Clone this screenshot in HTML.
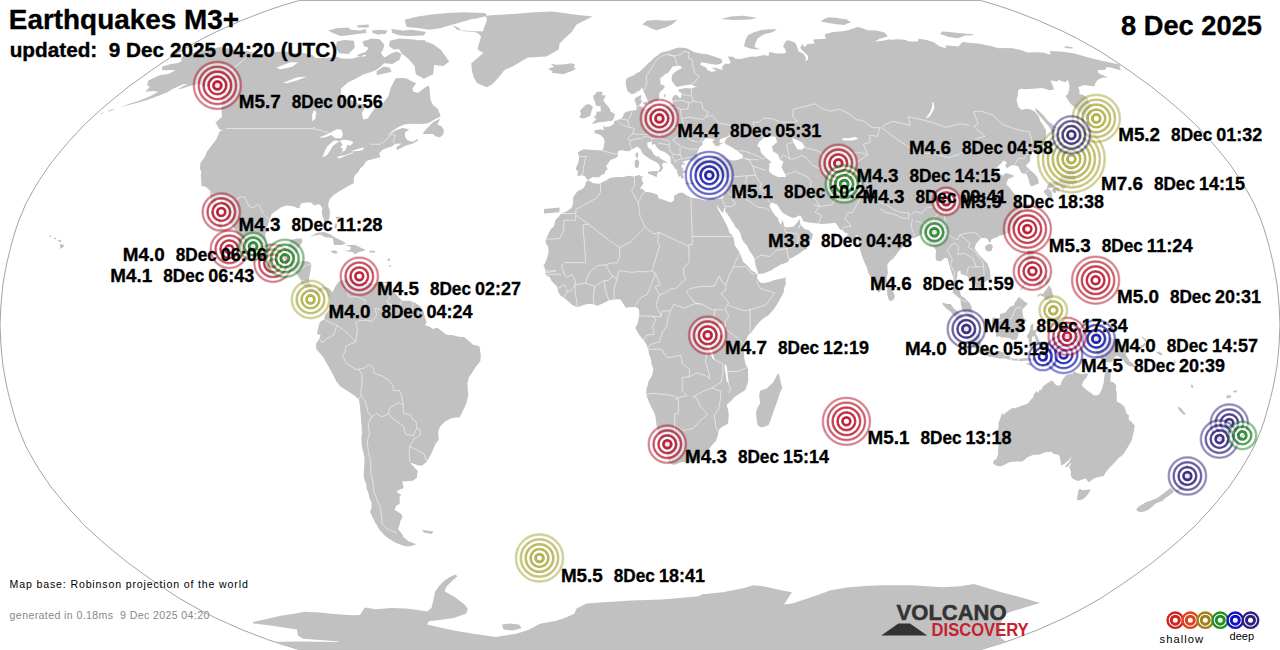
<!DOCTYPE html>
<html><head><meta charset="utf-8"><title>Earthquakes M3+</title>
<style>
html,body{margin:0;padding:0;background:#fff;}
body{width:1280px;height:650px;overflow:hidden;position:relative;font-family:"Liberation Sans",sans-serif;}
#map{position:absolute;left:0;top:0;}
.lbl text{font-family:"Liberation Sans",sans-serif;font-weight:bold;font-size:17.5px;fill:#000;stroke:#000;stroke-width:0.3px;}
.hd{font-family:"Liberation Sans",sans-serif;font-weight:bold;fill:#000;stroke:#000;stroke-width:0.35px;}
.sm{font-family:"Liberation Sans",sans-serif;}
</style></head><body>
<svg id="map" width="1280" height="650" viewBox="0 0 1280 650">
<path d="M980.6,0.4L990.8,3.5L1001.1,6.6L1012.5,10.5L1025.1,15.3L1037.6,20.1L1050.9,26.0L1064.2,32.0L1076.7,38.2L1088.3,44.7L1099.9,51.2L1110.4,58.1L1120.9,65.0L1131.2,72.1L1141.1,79.3L1151.1,86.5L1160.4,94.0L1169.7,101.5L1178.6,109.1L1187.0,116.8L1195.5,124.5L1202.7,132.4L1209.9,140.2L1216.8,148.1L1223.3,156.1L1229.8,164.1L1235.2,172.1L1240.6,180.1L1245.5,188.1L1250.0,196.2L1254.4,204.2L1257.7,212.3L1261.1,220.3L1263.9,228.4L1266.3,236.4L1268.6,244.5L1270.6,252.5L1272.6,260.6L1274.3,268.6L1275.7,276.7L1277.1,284.7L1277.9,292.8L1278.7,300.8L1279.3,308.9L1279.6,316.9L1280.0,325.0L1279.6,333.1L1279.3,341.1L1278.7,349.2L1277.9,357.2L1277.1,365.3L1275.7,373.3L1274.3,381.4L1272.6,389.4L1270.6,397.5L1268.6,405.5L1266.3,413.6L1263.9,421.6L1261.1,429.7L1257.7,437.7L1254.4,445.8L1250.0,453.8L1245.5,461.9L1240.6,469.9L1235.2,477.9L1229.8,485.9L1223.3,493.9L1216.8,501.9L1209.9,509.8L1202.7,517.6L1195.5,525.5L1187.0,533.2L1178.6,540.9L1169.7,548.5L1160.4,556.0L1151.1,563.5L1141.1,570.7L1131.2,577.9L1120.9,585.0L1110.4,591.9L1099.9,598.8L1088.3,605.3L1076.7,611.8L1064.2,618.0L1050.9,624.0L1037.6,629.9L1025.1,634.7L1012.5,639.5L1001.1,643.4L990.8,646.5L980.6,649.6L299.4,649.6L289.2,646.5L278.9,643.4L267.5,639.5L254.9,634.7L242.4,629.9L229.1,624.0L215.8,618.0L203.3,611.8L191.7,605.3L180.1,598.8L169.6,591.9L159.1,585.0L148.8,577.9L138.9,570.7L128.9,563.5L119.6,556.0L110.3,548.5L101.4,540.9L93.0,533.2L84.5,525.5L77.3,517.6L70.1,509.8L63.2,501.9L56.7,493.9L50.2,485.9L44.8,477.9L39.4,469.9L34.5,461.9L30.0,453.8L25.6,445.8L22.3,437.7L18.9,429.7L16.1,421.6L13.7,413.6L11.4,405.5L9.4,397.5L7.4,389.4L5.7,381.4L4.3,373.3L2.9,365.3L2.1,357.2L1.3,349.2L0.7,341.1L0.4,333.1L0.0,325.0L0.4,316.9L0.7,308.9L1.3,300.8L2.1,292.8L2.9,284.7L4.3,276.7L5.7,268.6L7.4,260.6L9.4,252.5L11.4,244.5L13.7,236.4L16.1,228.4L18.9,220.3L22.3,212.3L25.6,204.2L30.0,196.2L34.5,188.1L39.4,180.1L44.8,172.1L50.2,164.1L56.7,156.1L63.2,148.1L70.1,140.2L77.3,132.4L84.5,124.5L93.0,116.8L101.4,109.1L110.3,101.5L119.6,94.0L128.9,86.5L138.9,79.3L148.8,72.1L159.1,65.0L169.6,58.1L180.1,51.2L191.7,44.7L203.3,38.2L215.8,32.0L229.1,26.0L242.4,20.1L254.9,15.3L267.5,10.5L278.9,6.6L289.2,3.5L299.4,0.4Z" fill="#fff" stroke="#8c8c8c" stroke-width="0.8"/>
<path d="M162.3,66.4L171.3,64.0L178.1,62.9L181.5,61.2L181.3,58.1L183.9,55.0L197.0,51.9L208.9,49.2L220.8,47.0L225.7,48.3L230.3,48.6L236.6,50.2L247.0,50.9L252.4,52.6L258.4,54.0L266.6,53.6L273.8,51.9L284.9,51.2L292.7,53.3L303.4,52.9L311.8,54.7L315.9,58.1L326.4,58.1L335.9,56.4L341.7,58.5L351.9,58.8L359.3,56.4L364.5,56.4L371.7,51.2L380.7,45.0L384.3,46.3L380.7,51.2L382.3,55.3L384.5,57.4L392.0,52.9L397.0,51.5L401.5,54.0L399.5,59.8L392.3,64.0L384.4,63.3L377.5,69.2L371.2,72.1L363.3,74.6L354.6,79.3L347.9,82.6L341.1,88.4L340.9,91.0L341.0,97.8L349.9,99.7L358.9,103.8L366.4,104.5L362.0,113.0L362.4,116.1L363.5,119.5L367.8,118.4L375.3,107.2L383.3,102.7L388.5,95.9L390.4,88.4L393.1,82.9L395.7,78.2L401.5,77.9L406.6,78.6L410.8,80.8L416.2,83.3L412.4,88.4L413.0,91.4L418.0,92.9L425.2,87.3L429.1,85.5L429.9,92.2L430.5,99.7L432.5,104.5L438.0,109.1L440.2,114.9L440.5,116.4L435.4,119.1L427.6,123.4L419.5,124.1L410.5,123.8L403.9,124.5L398.2,127.3L391.8,131.6L386.9,135.9L395.4,130.4L402.5,128.1L409.2,129.2L404.9,132.4L405.1,136.7L407.3,140.2L413.0,141.8L417.2,139.1L418.2,140.6L412.3,143.8L405.3,145.8L397.1,150.1L396.1,147.3L402.0,143.4L395.4,143.8L392.3,146.2L386.8,148.1L382.4,149.7L379.0,153.7L380.1,156.1L380.3,157.3L375.0,158.5L367.7,160.5L365.5,162.1L364.0,165.3L360.1,168.5L358.4,171.7L354.5,175.7L353.9,178.5L353.7,183.3L349.7,185.3L344.2,188.6L339.0,191.4L333.7,195.0L329.8,199.0L328.5,202.6L328.3,206.3L329.8,210.7L329.7,217.5L327.4,223.6L324.9,224.0L323.5,219.1L321.7,213.1L322.4,208.3L320.1,204.7L318.1,204.2L314.1,205.5L311.1,202.6L306.0,202.6L301.0,203.4L299.4,207.1L300.5,208.3L297.2,207.9L293.1,206.3L286.4,205.5L281.6,207.1L276.7,210.3L271.7,213.9L269.3,220.8L266.8,227.6L265.2,235.2L266.0,242.1L268.0,247.3L271.9,249.7L274.0,251.7L281.2,250.1L285.4,250.1L287.9,247.3L289.8,242.1L290.4,240.1L297.0,238.5L301.9,238.5L302.3,242.1L299.2,246.5L297.5,251.3L295.2,255.8L294.5,260.6L292.3,261.4L297.2,261.4L302.6,261.0L308.5,261.4L311.6,264.6L310.3,270.7L309.4,276.7L308.7,280.7L310.5,284.7L313.5,288.8L317.0,289.6L323.2,286.4L328.4,288.0L331.1,290.4L328.3,296.0L326.8,291.6L323.0,289.2L320.0,292.0L320.2,295.2L316.7,294.0L314.0,292.0L308.7,291.2L308.2,288.8L303.8,285.2L301.3,284.7L301.3,280.7L299.1,277.5L296.0,273.1L294.4,271.9L289.2,270.7L284.8,269.1L280.1,266.2L276.1,261.8L272.9,259.8L265.5,261.8L260.5,260.2L254.2,257.4L249.1,254.2L242.6,250.9L238.7,246.9L236.6,242.9L238.5,238.5L237.8,234.4L235.9,231.6L233.1,226.4L230.4,223.2L227.9,219.5L225.9,214.3L223.6,210.3L221.8,207.1L220.8,200.6L217.0,197.4L215.5,202.2L217.7,207.1L219.0,214.3L220.3,218.3L220.9,222.4L222.1,227.6L223.6,232.8L222.6,230.4L217.7,225.6L218.3,220.8L214.8,217.1L212.2,214.3L210.4,213.1L214.2,210.7L211.2,202.6L210.5,197.4L210.1,194.2L210.5,191.4L207.9,188.6L205.0,186.5L201.4,186.1L201.1,177.7L200.6,175.3L201.5,172.9L199.9,168.1L200.6,162.5L205.4,156.1L206.6,152.1L216.2,139.5L220.0,130.8L224.4,130.8L220.0,127.3L216.7,121.4L222.1,116.8L221.5,112.2L221.8,107.2L221.7,103.4L221.0,99.7L223.0,93.3L217.6,92.9L214.9,89.9L212.9,87.7L208.4,86.5L202.7,86.5L199.1,83.7L190.8,85.8L182.2,88.4L177.2,89.5L187.8,83.7L182.7,84.4L173.2,88.8L167.4,92.2L157.9,95.9L145.0,100.8L134.5,103.4L126.0,105.7L119.9,107.2L130.1,103.4L139.1,100.8L150.6,95.9L158.3,91.8L153.4,91.0L145.4,91.8L149.7,86.9L146.9,84.7L148.1,82.2L148.0,80.8L155.7,77.1L160.5,75.0L168.3,73.9L175.7,70.3L170.8,69.9L164.9,70.3L161.8,69.9L162.3,66.4ZM451.4,25.1L458.2,27.5L461.7,31.1L475.0,32.0L478.5,33.5L481.0,36.6L479.2,43.1L477.5,49.6L483.3,52.9L471.3,63.3L472.0,71.4L473.8,77.5L476.9,82.9L486.4,87.3L491.7,84.7L498.7,77.5L504.3,70.3L512.5,66.4L527.9,57.4L546.4,56.4L558.8,49.6L559.4,43.7L564.8,38.2L571.7,32.0L576.6,24.5L587.4,18.9L592.6,16.5L576.0,14.8L560.3,12.4L550.4,11.5L535.3,12.2L512.7,14.1L490.3,15.3L479.1,17.7L470.7,19.4L458.1,23.0ZM356.4,55.3L366.3,51.5L367.0,53.6L360.6,56.4ZM376.4,71.4L383.7,66.4L389.6,67.4L391.7,72.1L383.8,73.5L377.0,75.3ZM422.5,134.0L425.0,130.4L432.5,122.6L440.3,118.4L437.3,124.5L441.9,126.5L443.8,130.0L443.4,134.3L439.8,137.5L435.5,136.3L433.1,134.0ZM309.8,236.9L317.0,232.8L324.0,232.0L330.6,234.4L335.4,237.7L340.3,240.1L346.1,243.3L341.4,244.9L334.0,244.9L332.6,238.1L325.0,237.3L320.2,234.4L314.8,235.6ZM345.2,245.3L350.8,244.9L355.3,244.9L361.0,247.7L365.6,250.1L363.4,250.9L359.8,251.7L354.6,254.2L352.8,252.1L344.5,250.9L350.2,250.1L350.9,246.9ZM330.8,250.9L335.8,250.5L338.0,253.0L334.4,253.8L330.8,251.7ZM369.8,250.5L375.3,250.9L374.8,252.5L369.5,252.5ZM224.1,131.2L218.9,128.8L215.2,121.8L219.2,122.2L222.9,125.7L224.5,129.2ZM60.5,243.7L63.7,244.9L64.0,246.5L60.3,248.9L60.0,245.7ZM331.1,290.4L332.4,292.4L334.8,287.6L337.5,283.1L340.2,280.7L345.6,279.5L349.7,277.1L352.3,275.1L353.5,278.3L351.5,281.1L350.6,278.7L351.6,283.9L353.2,286.8L351.5,280.7L356.6,278.3L356.8,276.3L358.4,278.7L362.8,281.1L364.1,282.7L367.7,282.3L372.8,284.3L378.3,282.3L385.7,281.9L383.1,284.3L388.6,287.6L392.0,290.8L395.4,293.6L398.8,297.6L402.3,300.8L409.4,300.8L414.6,302.5L418.8,305.3L421.6,308.1L423.3,310.9L425.0,317.8L426.7,322.2L424.9,325.0L430.3,327.0L432.1,329.0L437.4,327.8L446.4,334.7L451.7,335.1L458.8,336.7L464.1,337.1L467.7,339.9L473.1,344.7L478.8,345.9L479.6,347.1L480.8,355.2L480.3,361.2L475.5,367.3L472.2,372.5L468.9,377.3L467.4,383.4L468.2,395.4L466.3,403.5L464.8,406.7L462.4,411.9L459.4,417.6L455.3,417.6L450.8,418.4L444.9,421.6L439.9,426.8L438.1,431.7L438.8,439.7L435.6,443.7L433.9,447.8L432.0,452.2L429.0,457.8L426.4,461.9L422.4,465.5L418.0,465.5L413.3,463.5L410.1,462.7L414.9,467.9L417.7,471.1L416.8,477.9L412.6,480.7L402.2,481.5L403.7,487.9L398.9,489.9L396.3,491.9L401.1,494.7L399.6,497.1L399.7,503.8L396.2,505.8L394.6,509.8L400.9,513.7L402.7,516.8L400.5,520.8L399.3,525.5L398.1,529.3L402.3,534.3L403.3,537.0L408.1,540.9L416.3,544.3L412.0,545.8L408.0,546.6L402.9,545.5L395.6,542.8L389.2,538.9L384.2,535.1L379.1,529.3L373.6,519.6L370.0,512.1L371.6,507.8L371.5,501.9L369.8,499.1L368.3,492.7L366.5,487.9L366.5,485.1L363.9,477.9L363.7,473.1L364.1,467.9L364.5,457.8L361.8,445.8L361.3,437.7L362.0,433.7L361.5,425.6L361.1,420.0L359.9,405.5L358.9,399.5L354.6,395.8L348.5,391.4L340.2,386.6L335.8,380.5L332.4,373.3L327.8,365.3L322.8,356.4L316.4,349.2L315.8,343.9L319.2,339.1L320.6,335.1L317.0,333.9L318.3,327.0L320.1,321.8L324.0,319.4L325.2,314.9L329.2,309.7L329.8,302.9L330.0,298.8L328.3,296.0ZM422.0,530.1L427.6,530.5L433.3,531.6L432.1,533.9L427.3,533.2L423.9,532.4ZM385.8,281.5L389.3,281.5L388.7,284.3L385.6,284.3ZM586.9,180.9L588.9,180.5L593.1,183.3L599.8,183.7L603.2,181.7L604.6,181.3L610.0,178.1L616.7,176.9L623.4,176.9L628.4,175.7L633.4,176.5L639.7,174.9L641.0,176.5L643.3,175.7L641.7,178.1L642.0,180.9L643.7,183.3L640.7,187.3L640.3,188.6L643.4,189.4L645.1,191.8L650.8,192.6L657.3,194.6L658.7,198.2L665.5,200.6L670.3,202.6L674.0,200.6L674.2,195.8L678.9,193.0L682.2,192.6L687.4,195.8L691.6,197.8L697.7,198.6L704.6,200.6L707.6,199.4L709.6,198.2L713.0,198.2L715.8,199.0L717.1,203.4L716.5,204.7L717.7,208.7L720.8,214.3L723.8,219.5L728.4,228.8L728.9,232.0L733.2,236.4L735.1,246.1L739.8,252.5L742.6,260.6L743.7,262.2L747.4,265.4L751.0,269.9L755.4,272.7L757.5,274.7L756.9,278.3L760.3,282.7L763.8,283.1L769.1,281.9L774.3,279.9L779.6,279.1L785.9,277.5L785.3,281.1L786.1,283.1L784.5,287.2L783.5,292.8L780.1,298.8L776.7,304.9L773.2,310.1L767.9,315.7L765.4,316.9L760.9,320.6L755.5,326.6L751.9,331.8L748.4,335.1L745.5,341.1L742.6,347.5L743.9,352.4L744.5,359.2L745.8,365.3L747.9,367.3L748.1,373.3L748.2,381.4L746.2,387.4L745.0,390.2L734.6,397.0L731.0,401.1L726.6,404.7L728.2,410.3L728.7,414.0L728.4,421.2L727.6,424.0L721.2,427.2L719.0,429.7L717.7,435.7L716.0,440.9L711.7,445.3L708.0,450.6L702.6,455.4L700.4,457.8L695.6,460.6L692.5,461.9L688.7,462.7L682.1,461.9L673.5,465.1L669.6,462.7L668.6,463.5L668.0,459.8L667.4,455.8L664.6,445.8L662.3,440.1L659.6,435.7L657.9,432.1L656.6,425.6L655.6,417.2L654.6,413.6L651.5,407.5L648.7,401.5L646.3,394.6L646.3,389.4L647.4,386.2L648.8,380.5L652.0,375.7L653.4,369.3L651.3,363.2L651.3,360.4L648.9,353.2L648.2,349.2L647.1,346.3L646.4,344.3L643.6,340.3L639.3,335.1L636.4,330.2L635.4,327.8L637.5,323.8L638.2,321.0L639.3,314.9L638.9,309.3L636.1,306.9L634.7,306.9L629.7,307.3L625.8,307.7L623.3,303.7L620.5,299.6L616.6,299.2L609.8,300.0L603.8,302.9L597.4,305.7L593.8,304.5L590.3,303.7L585.0,304.5L577.9,307.3L572.5,305.3L566.2,299.6L560.2,295.2L557.8,290.8L557.2,286.8L553.3,282.7L551.6,281.1L549.6,277.1L545.7,275.1L545.5,271.1L544.2,266.2L543.2,265.8L545.4,262.6L546.9,258.6L548.6,252.1L548.1,246.5L546.1,243.7L545.5,241.3L546.3,238.5L548.2,234.4L550.5,229.6L553.8,226.4L555.5,219.9L559.1,216.3L561.0,213.5L566.3,211.5L570.9,208.3L572.3,206.3L573.2,202.6L572.8,198.2L575.1,194.2L577.6,191.0L580.7,189.8L583.5,188.1L585.3,184.9L585.7,183.3L586.9,180.9ZM778.8,373.3L781.5,385.4L782.4,387.4L779.7,393.4L777.9,399.5L774.2,409.5L770.8,419.6L768.4,425.2L761.6,427.6L757.6,425.2L756.6,419.6L756.0,411.5L758.7,405.5L760.2,403.5L759.2,395.4L760.1,390.6L766.6,388.6L773.2,382.6L777.0,374.9ZM716.5,204.7L715.8,199.0L722.5,198.6L724.0,195.8L724.4,192.2L725.8,188.6L726.7,183.3L726.5,180.5L726.9,177.7L724.9,177.7L721.8,176.9L720.0,178.9L715.0,179.7L711.5,177.3L708.8,176.5L708.0,178.9L704.3,178.9L700.8,176.9L697.8,176.1L696.9,172.9L695.5,170.5L694.1,169.3L695.5,166.1L693.2,166.1L693.4,163.7L694.6,162.5L697.2,162.1L701.6,160.1L699.4,161.7L696.6,162.5L693.3,162.5L694.5,160.5L692.2,160.9L688.9,160.1L685.0,160.9L682.1,161.7L684.2,162.9L685.6,164.5L682.0,164.5L681.4,166.9L683.5,168.5L682.2,170.1L685.9,170.9L686.4,173.3L683.7,172.5L682.8,174.5L684.0,178.5L681.6,178.5L680.5,176.1L678.9,176.9L677.4,173.3L676.7,170.9L678.0,170.5L682.7,172.1L678.0,170.9L675.2,168.5L673.5,166.1L670.8,162.9L670.5,158.1L670.8,156.9L667.8,154.5L664.2,152.1L659.3,150.1L656.6,147.0L654.6,143.8L652.4,145.0L651.8,143.8L652.1,141.8L647.3,142.6L647.7,147.3L651.2,149.7L653.9,154.5L656.5,156.5L660.1,156.5L659.2,158.1L662.5,159.7L666.1,161.7L667.8,163.7L665.8,162.9L663.5,162.5L661.7,165.3L663.4,168.1L661.8,170.1L660.2,172.1L658.5,171.7L659.1,169.7L660.4,168.1L658.7,164.1L655.7,161.7L653.7,160.9L649.8,158.9L647.1,156.9L643.6,154.5L641.6,152.1L641.0,150.1L639.0,147.7L636.5,146.6L634.2,148.5L632.0,148.9L629.1,151.3L625.2,150.9L622.6,150.5L620.7,150.1L617.8,151.7L618.0,156.5L614.6,158.5L610.3,160.1L607.9,163.7L606.2,166.1L607.7,169.3L605.3,170.9L604.6,173.7L601.5,174.9L599.4,177.3L595.1,177.3L592.1,177.3L588.6,179.7L587.9,180.1L585.7,178.1L585.5,176.5L582.3,175.3L577.2,176.1L577.9,171.3L575.7,169.3L576.6,166.5L578.1,163.3L579.1,159.3L578.8,155.7L577.8,152.5L580.8,150.5L583.8,149.3L588.6,149.7L595.7,150.1L602.1,150.5L603.8,147.0L604.5,141.4L603.7,138.3L601.6,135.9L600.7,135.1L595.2,133.2L593.9,130.8L599.6,129.2L603.9,130.0L603.2,125.7L605.3,126.9L609.7,126.5L613.8,123.8L614.3,121.1L617.0,120.3L620.2,119.1L622.7,117.2L624.0,113.4L626.5,111.8L631.0,110.7L635.5,110.3L636.7,109.1L635.9,103.8L634.4,99.7L635.9,97.4L640.0,95.5L641.7,95.2L640.9,98.2L640.6,100.8L642.6,100.0L641.5,102.3L639.1,105.3L642.7,107.6L642.7,109.1L646.3,108.4L650.4,107.6L652.6,109.5L657.9,108.0L665.7,107.6L666.5,106.8L669.4,105.7L672.9,104.5L672.8,102.7L672.1,98.5L673.7,95.5L676.5,94.8L679.4,97.8L681.1,97.8L681.5,92.9L678.8,91.8L678.6,89.5L682.0,88.8L685.6,88.0L691.3,88.4L695.4,86.9L697.4,86.9L693.8,85.8L690.9,84.7L686.7,85.1L682.5,85.8L676.9,86.9L674.8,85.1L671.9,81.1L671.6,77.5L671.9,75.3L674.2,72.8L678.0,69.9L681.6,68.5L681.3,66.4L678.8,65.7L672.5,66.4L670.9,69.2L668.2,72.8L664.7,74.6L662.1,77.1L660.2,77.9L660.5,82.9L660.3,84.0L663.8,85.5L665.0,86.2L663.1,89.2L660.1,91.8L659.1,94.8L659.3,97.8L658.7,98.9L657.1,101.2L653.5,101.2L652.4,103.8L648.9,103.8L648.5,101.9L647.9,101.2L646.7,98.2L645.5,95.2L643.4,90.7L641.7,86.9L640.6,90.3L636.8,91.8L634.2,93.7L631.3,94.0L627.4,91.0L626.6,87.7L625.9,85.1L625.7,81.1L626.7,78.6L629.5,77.1L634.5,75.0L635.9,73.5L640.0,71.4L642.7,68.8L646.7,65.0L649.3,62.3L651.6,60.5L654.3,57.4L656.9,56.0L660.6,52.9L663.0,51.9L668.1,50.9L673.0,49.2L676.6,47.9L679.8,47.6L684.1,47.9L686.7,48.3L690.9,50.2L693.8,51.9L699.2,53.3L707.1,54.3L714.1,56.4L721.3,59.1L722.6,62.3L719.9,64.0L716.1,64.7L710.6,64.0L705.8,62.9L701.0,62.6L700.1,64.7L706.0,67.4L707.6,70.3L712.3,72.1L716.1,70.6L714.4,69.2L711.5,68.1L715.5,67.8L720.7,69.6L722.7,69.9L722.0,67.1L725.1,63.6L729.2,64.0L730.5,61.9L727.8,56.4L733.1,56.7L735.6,58.8L741.0,59.1L744.5,58.1L751.8,56.4L755.8,56.7L759.4,56.0L764.2,55.0L768.5,56.0L769.3,51.9L776.5,53.6L781.7,53.6L786.0,52.9L785.5,49.6L783.1,46.6L784.7,43.1L786.4,40.5L789.4,40.5L795.2,42.7L797.1,47.0L798.4,51.2L803.7,54.0L806.0,58.1L805.2,61.6L808.0,59.5L808.2,56.0L803.9,51.9L800.2,47.9L802.2,44.0L804.6,47.0L807.7,44.0L811.2,43.7L814.9,43.4L812.9,39.8L815.4,39.2L826.1,38.8L825.3,36.9L824.5,34.6L827.6,33.5L833.2,32.0L839.7,31.4L846.1,30.8L851.0,29.3L854.7,28.1L856.3,26.9L861.3,27.8L867.6,30.2L876.2,30.5L884.7,32.6L887.9,36.2L879.6,38.8L874.8,41.4L882.7,40.8L888.8,39.5L892.7,39.8L897.0,39.2L905.0,39.8L909.2,41.4L917.8,41.4L918.5,38.8L925.7,39.8L933.3,42.1L939.5,46.3L945.6,48.3L945.9,45.3L952.9,46.0L958.7,46.6L960.8,43.4L962.9,42.1L968.7,42.7L979.9,43.7L990.5,46.0L998.7,48.3L1005.8,47.9L1012.6,48.3L1021.8,50.2L1027.6,52.6L1034.8,52.2L1043.0,52.6L1050.9,54.7L1049.6,50.9L1059.5,51.5L1065.1,51.9L1073.5,53.3L1079.8,55.0L1088.5,57.4L1097.3,59.8L1105.1,61.6L1112.5,62.9L1120.4,64.7L1119.5,66.7L1121.0,70.6L1111.7,67.8L1106.6,67.1L1105.9,68.5L1105.1,69.9L1097.6,69.9L1098.5,73.2L1108.2,77.5L1102.6,77.5L1097.5,80.0L1095.5,82.9L1094.3,86.5L1084.1,85.1L1078.1,87.3L1079.4,89.9L1079.5,94.0L1083.5,95.2L1088.6,98.5L1088.0,100.8L1092.0,106.0L1089.3,108.0L1091.7,112.2L1090.3,115.7L1091.2,118.4L1089.6,121.1L1082.6,114.9L1078.6,111.1L1070.4,103.4L1065.5,95.9L1067.9,94.0L1069.3,88.4L1069.5,84.7L1067.8,79.7L1065.2,82.2L1058.5,80.0L1057.3,81.5L1050.5,80.4L1054.3,89.2L1049.7,90.3L1041.8,88.0L1036.5,88.4L1025.8,89.2L1020.6,88.8L1018.2,90.3L1018.0,94.8L1016.5,99.7L1018.5,107.2L1022.1,109.9L1025.7,108.7L1030.8,109.5L1034.7,111.4L1039.0,116.8L1040.0,120.7L1042.7,124.5L1046.0,130.4L1045.9,136.3L1045.6,138.3L1043.9,143.0L1042.2,148.1L1038.4,152.9L1032.6,151.7L1031.5,153.7L1030.5,154.9L1030.1,160.1L1030.1,161.3L1026.8,164.5L1025.9,166.1L1030.3,170.1L1036.6,176.1L1038.4,180.1L1038.7,183.7L1034.3,185.3L1031.3,186.5L1029.6,183.7L1028.2,178.1L1026.4,174.1L1021.8,173.3L1019.8,170.1L1018.7,166.9L1016.5,165.7L1012.3,164.9L1008.3,167.3L1007.5,168.5L1005.2,166.1L1006.8,162.5L1003.6,160.5L1001.5,162.9L999.1,164.9L997.0,167.7L994.5,168.1L994.7,170.1L1000.6,174.1L1002.9,175.7L1005.7,172.9L1009.5,174.1L1013.4,175.3L1013.4,176.9L1008.7,178.5L1007.9,179.7L1006.0,184.1L1008.8,186.5L1013.1,192.2L1015.7,195.0L1019.3,197.4L1020.0,199.4L1018.1,201.8L1020.4,203.8L1022.5,205.1L1022.2,209.1L1020.9,212.3L1019.7,215.5L1018.5,220.3L1016.4,224.4L1014.3,226.4L1011.2,230.0L1009.8,232.4L1004.9,234.0L1002.3,235.2L1000.0,235.6L996.8,237.3L991.8,238.9L989.7,243.3L987.6,238.9L984.7,238.1L981.2,238.1L977.6,241.7L975.4,245.3L974.7,248.5L978.7,254.6L983.6,259.4L987.7,263.8L990.1,270.7L990.5,278.7L986.5,280.7L983.2,283.1L982.0,286.4L977.2,290.0L975.8,290.4L976.3,285.6L974.3,283.1L970.7,282.3L967.7,276.7L965.9,275.5L960.8,273.9L960.5,270.7L959.1,270.7L957.4,271.9L957.4,275.5L955.6,283.5L957.3,288.4L959.9,291.2L961.2,296.0L963.8,297.2L966.8,300.0L969.7,302.9L971.7,306.9L971.8,310.9L973.3,314.5L974.8,319.4L972.3,319.8L968.7,316.9L964.4,313.3L962.1,309.3L961.0,304.9L960.3,298.8L958.1,297.2L952.9,292.8L953.0,286.8L953.7,281.9L952.4,274.7L951.0,270.7L948.5,262.6L947.6,258.6L944.7,257.8L940.6,261.4L936.3,260.6L935.5,257.4L936.1,250.5L934.0,247.3L929.9,244.5L927.0,241.7L925.6,238.5L924.4,235.2L921.4,233.6L920.0,235.6L916.6,236.9L915.0,237.7L912.3,238.1L908.1,238.5L908.0,242.5L903.8,245.7L900.6,248.9L896.9,253.8L893.5,258.2L890.6,260.6L887.4,264.2L887.5,269.9L888.0,272.3L886.6,278.7L887.3,283.5L885.2,283.9L884.0,288.8L881.5,289.2L879.2,292.4L875.5,289.2L874.7,285.2L872.6,279.5L870.6,276.7L868.2,272.7L866.5,266.6L864.4,262.6L862.1,256.6L859.7,248.5L859.2,242.9L858.2,240.1L858.1,235.6L856.3,235.6L853.3,240.5L851.0,241.3L846.0,236.4L848.5,233.6L846.0,233.2L843.0,230.8L839.3,228.8L837.3,225.2L835.3,222.8L828.4,223.6L820.9,224.0L818.1,223.6L811.1,222.8L808.6,222.4L803.3,221.2L801.0,216.3L799.2,215.5L796.7,217.1L793.3,217.9L789.7,216.7L786.1,214.7L782.5,212.7L779.7,208.7L777.3,204.7L774.8,203.8L772.2,202.6L769.7,204.2L769.9,206.7L772.0,211.1L775.2,215.5L778.2,218.3L778.8,221.6L781.2,225.2L782.1,219.9L783.8,223.2L784.1,226.4L787.3,227.6L793.7,226.4L796.6,223.2L798.7,220.3L799.6,219.1L800.6,224.8L804.7,229.2L808.6,230.0L813.1,234.4L811.7,238.9L809.2,242.5L807.1,246.5L806.9,248.9L803.1,250.5L799.5,253.4L794.4,256.6L789.3,259.4L787.7,262.2L780.8,264.6L777.4,266.6L773.9,268.6L770.5,270.7L763.5,273.5L758.2,273.9L757.4,270.7L755.5,265.4L755.0,262.6L754.5,258.6L752.2,254.6L749.2,250.5L746.9,245.3L744.0,242.5L741.7,238.5L740.8,234.4L738.9,230.4L735.6,227.2L734.1,224.4L731.4,220.3L727.6,214.3L725.0,211.1L725.4,206.3L724.2,208.3L723.1,213.1L720.9,211.1L717.6,206.3ZM596.9,91.8L602.6,91.8L602.0,95.2L605.8,95.5L603.3,100.4L605.7,103.4L609.8,108.4L610.5,111.4L614.9,114.1L613.7,119.1L612.1,120.7L606.3,121.4L600.1,122.2L591.6,124.1L596.7,118.8L593.7,117.6L596.8,114.1L596.1,111.8L600.9,111.4L600.5,106.0L596.0,106.0L595.4,102.7L594.0,99.7L593.0,95.9L596.2,92.9ZM591.3,111.8L590.2,116.1L583.6,118.4L579.1,117.6L581.1,114.1L579.9,111.1L582.4,108.0L586.1,104.5L589.7,104.2L592.9,106.8L592.1,109.5ZM552.8,71.7L548.1,68.8L554.0,66.7L550.8,64.0L557.3,64.7L565.3,64.3L570.9,63.3L574.7,64.3L574.0,67.8L576.3,68.5L572.0,71.0L563.1,74.3L557.8,73.5L551.1,72.8ZM647.9,171.7L650.9,171.3L658.5,170.9L656.9,174.9L657.0,177.3L654.3,176.1L648.3,173.7ZM634.8,160.5L637.7,159.3L639.3,162.1L638.7,167.3L636.7,168.1L634.7,166.9ZM635.5,153.7L637.7,152.1L638.4,154.9L637.4,158.5L635.8,156.9ZM685.2,182.9L688.5,182.5L694.6,182.9L693.6,184.1L689.3,184.5L685.6,183.7ZM714.7,184.1L718.7,182.9L722.2,181.3L720.4,184.1L717.2,185.7L715.2,185.3ZM887.5,286.4L889.6,286.8L892.6,290.8L894.9,296.0L893.7,299.6L890.2,301.3L888.3,298.8L887.0,292.8ZM645.6,101.9L647.7,101.5L646.8,104.5L643.9,104.5L642.7,102.7ZM664.0,94.4L666.0,94.4L664.8,97.4L663.5,96.3ZM642.3,24.5L646.6,20.7L655.5,20.1L666.6,20.7L677.5,19.8L671.8,24.8L665.3,27.5L656.3,30.2L651.6,28.4L646.8,26.0ZM744.0,46.3L745.3,40.5L747.9,35.3L753.5,32.6L761.2,29.9L770.1,29.3L777.1,29.3L772.2,32.3L764.1,34.3L757.7,38.2L755.8,42.1L754.3,47.0L760.4,49.2L754.1,49.2L750.0,48.6ZM721.1,18.9L730.6,16.5L743.0,15.8L757.4,17.7L750.1,19.6L735.0,20.1ZM820.4,21.6L824.1,18.9L828.5,17.2L835.7,17.7L847.0,19.6L851.2,22.2L847.3,23.6L844.5,25.1L836.7,24.2L828.7,23.0ZM940.2,34.0L941.9,31.4L949.9,32.0L960.1,33.2L974.1,34.3L971.2,35.6L966.0,35.3L957.8,38.2L948.9,36.9ZM1063.4,47.0L1066.1,46.3L1072.8,47.3L1072.5,48.6L1066.9,48.3ZM1046.7,188.1L1047.7,185.3L1050.0,182.1L1053.0,182.1L1056.0,181.3L1059.3,181.3L1060.1,179.3L1060.9,176.1L1060.8,174.5L1063.2,176.9L1066.1,174.5L1067.6,170.9L1066.6,166.1L1064.8,162.1L1064.1,159.3L1065.4,158.1L1067.6,158.5L1069.7,162.1L1073.0,165.7L1074.3,170.9L1073.2,172.1L1075.0,176.5L1075.4,179.3L1077.4,181.3L1076.2,183.7L1074.5,182.9L1074.9,184.5L1072.7,185.7L1070.9,183.7L1070.3,185.7L1066.3,185.7L1066.1,186.9L1064.6,187.3L1064.0,190.2L1061.3,188.6L1060.9,186.5L1058.4,185.3L1054.7,186.1L1051.8,187.3L1049.8,188.1L1047.2,188.6ZM1062.7,158.5L1061.8,155.3L1059.8,154.1L1059.8,151.3L1062.7,150.9L1061.0,147.0L1059.0,142.2L1064.2,145.4L1069.2,147.7L1072.8,147.0L1073.9,149.7L1076.3,150.9L1073.7,152.5L1072.0,156.1L1066.6,154.1L1064.2,154.5L1064.7,156.9ZM1043.5,191.4L1045.3,189.8L1047.2,188.6L1050.0,189.8L1051.9,193.0L1052.3,198.6L1050.5,200.2L1048.4,199.0L1047.0,195.4L1044.8,193.0ZM1051.8,191.0L1053.3,187.7L1058.9,187.3L1059.8,189.0L1059.0,191.4L1056.7,190.6L1055.6,193.0L1054.3,193.0ZM1034.7,108.0L1038.0,109.9L1043.2,114.9L1047.9,120.7L1057.8,128.5L1053.2,127.7L1055.5,134.3L1061.9,139.1L1057.7,137.5L1058.2,140.6L1052.6,133.2L1049.0,126.5L1042.1,118.8L1036.2,111.8ZM1025.4,223.2L1027.6,225.2L1027.0,231.2L1026.0,235.2L1025.6,236.9L1023.4,234.4L1022.2,231.6L1022.6,226.4L1024.3,224.0ZM990.9,244.1L992.9,246.1L991.8,250.5L988.5,251.7L985.5,250.1L984.7,247.3L986.8,244.9L989.2,244.1ZM1027.2,250.5L1029.2,250.1L1032.8,250.5L1033.9,255.8L1035.2,259.4L1032.3,261.4L1033.0,266.6L1036.3,267.8L1039.3,269.1L1042.2,269.5L1043.0,274.3L1041.5,273.5L1039.2,271.5L1036.6,270.3L1033.0,269.5L1029.8,269.1L1029.5,266.6L1027.6,265.0L1026.0,261.4L1026.0,259.0L1027.6,258.2L1027.4,254.6ZM1037.2,297.2L1037.7,294.8L1040.5,293.6L1043.0,294.0L1044.6,291.6L1046.6,289.2L1048.8,285.6L1051.1,288.0L1053.0,294.8L1052.2,299.6L1049.9,302.5L1048.7,300.4L1045.2,300.0L1043.9,296.8L1039.9,295.2ZM1043.4,274.7L1047.1,275.5L1049.4,280.7L1047.3,283.9L1046.3,284.7L1044.5,281.5L1044.9,278.3ZM1035.3,277.5L1038.9,278.3L1040.3,281.9L1037.9,282.3L1035.8,282.7ZM1039.2,281.1L1041.5,282.7L1041.2,287.6L1038.3,287.2L1037.6,283.1ZM1041.5,279.9L1043.4,280.7L1041.8,286.4L1040.9,283.5ZM1029.6,270.7L1033.3,271.9L1032.6,275.5L1029.9,273.5ZM1019.8,291.2L1021.8,289.6L1024.8,285.6L1027.3,279.5L1026.1,280.7L1023.6,284.7L1020.7,289.2ZM1018.7,296.8L1022.1,299.2L1025.0,301.7L1028.0,303.7L1024.6,306.9L1022.2,310.1L1023.1,316.9L1027.1,321.0L1023.9,321.8L1022.2,325.0L1021.4,329.0L1018.5,331.8L1018.4,335.9L1016.5,339.5L1012.2,339.9L1011.2,338.7L1005.9,337.5L1001.3,337.5L999.9,336.3L996.0,336.7L995.8,331.0L993.4,326.6L992.0,323.8L991.9,319.0L993.9,316.9L997.2,318.2L999.7,318.6L999.9,314.1L1005.5,312.5L1009.0,307.7L1010.4,306.5L1013.9,305.3L1014.8,302.5L1016.8,300.0ZM942.7,302.5L947.1,304.1L950.6,304.1L954.3,308.9L958.6,312.1L962.7,316.5L965.2,317.8L971.6,321.0L973.5,325.0L975.9,329.0L977.2,334.3L980.3,337.1L980.9,342.3L980.3,348.3L977.8,348.3L975.3,348.7L971.6,344.7L967.8,341.1L964.0,335.5L961.0,329.0L958.6,323.8L956.7,319.0L953.7,315.3L950.8,312.1L947.2,309.3L945.0,307.3L942.5,304.1ZM977.6,352.4L981.0,348.7L984.2,349.2L988.7,350.4L991.1,352.4L996.0,352.8L998.3,350.8L1003.8,352.8L1004.4,355.2L1010.0,356.0L1010.5,360.0L1004.9,358.4L999.6,358.4L994.4,357.6L989.1,356.4L983.9,354.8L981.7,354.8L978.7,352.8ZM1010.3,357.6L1014.5,358.8L1018.0,358.4L1017.5,360.8L1012.6,360.4ZM1019.1,358.8L1026.2,358.0L1029.7,358.4L1040.1,357.6L1039.9,359.6L1033.1,360.8L1027.8,360.4L1020.7,361.2L1018.3,360.8ZM1041.6,366.5L1045.4,362.4L1054.2,358.8L1055.5,359.2L1047.8,363.2L1043.3,366.5ZM1025.9,363.2L1031.2,363.6L1031.7,366.1L1026.9,364.4ZM1028.6,347.5L1031.8,347.5L1031.7,341.1L1032.2,336.7L1034.7,335.9L1036.0,341.1L1037.7,344.3L1041.8,346.3L1040.2,343.1L1038.5,339.1L1035.5,333.1L1039.5,329.0L1042.7,328.6L1042.4,327.4L1037.4,328.6L1034.5,330.6L1033.1,329.8L1033.6,323.4L1036.4,323.0L1041.7,323.4L1046.7,323.0L1048.0,319.8L1049.4,319.0L1047.1,323.4L1043.5,323.8L1036.4,323.0L1031.8,324.2L1030.4,325.4L1030.3,328.2L1028.8,333.1L1026.6,335.9L1028.6,339.1L1029.2,343.1ZM1057.9,317.4L1060.1,319.4L1059.5,322.6L1062.0,323.4L1060.2,327.0L1059.2,324.2L1057.7,327.0L1057.7,321.4ZM1059.9,336.7L1065.3,336.3L1069.1,337.9L1068.0,339.9L1062.7,339.1L1059.5,338.7ZM1052.1,337.5L1056.3,338.3L1055.2,340.7L1052.0,339.9ZM1070.1,330.2L1073.7,326.6L1079.0,327.8L1081.5,328.6L1081.4,333.1L1082.3,336.3L1085.1,338.3L1088.4,334.3L1092.1,331.4L1096.7,332.2L1101.9,334.7L1105.4,335.5L1110.7,337.9L1115.9,340.3L1118.7,342.3L1122.1,346.3L1124.3,349.2L1127.8,350.0L1128.7,352.4L1125.5,353.2L1127.3,357.2L1129.8,361.2L1133.1,363.6L1135.3,366.5L1136.9,367.7L1133.5,366.9L1128.4,365.7L1125.0,363.2L1122.5,358.8L1116.8,355.6L1113.7,358.0L1112.4,361.2L1109.2,362.4L1103.9,361.6L1099.9,357.6L1095.3,358.4L1097.1,353.2L1095.1,350.8L1093.7,346.3L1087.4,343.5L1083.9,342.7L1079.7,340.7L1076.8,341.1L1076.2,338.3L1073.4,336.3L1077.0,334.7L1074.2,333.9L1071.1,331.0ZM1130.9,347.5L1133.2,349.2L1138.7,347.1L1142.8,344.7L1145.0,342.3L1145.3,344.7L1142.2,347.9L1138.5,350.0L1133.1,350.4ZM1140.3,335.5L1145.5,339.1L1148.5,343.9L1147.4,343.1L1143.7,339.5ZM1159.6,351.6L1162.9,354.4L1160.4,355.2L1156.0,352.4ZM1169.7,362.4L1173.9,363.2L1172.7,364.8L1170.2,364.4ZM1173.2,358.8L1175.4,361.6L1176.3,364.0L1174.3,362.4ZM1177.6,406.3L1181.5,408.7L1186.0,414.4L1183.8,414.8L1179.6,410.7L1177.9,407.9ZM1191.4,384.2L1193.3,385.8L1192.6,388.6L1190.9,387.0ZM1226.6,395.4L1230.9,395.0L1230.6,397.9L1226.3,398.3ZM1233.2,391.0L1237.3,390.2L1236.8,392.2L1233.2,392.6ZM1108.6,368.1L1110.8,373.3L1110.4,381.4L1113.8,382.6L1116.3,385.4L1116.0,390.6L1116.9,393.0L1116.6,398.7L1116.8,401.5L1120.6,403.5L1124.5,406.7L1125.4,410.3L1127.0,414.0L1129.1,415.6L1128.5,419.6L1131.1,421.6L1134.7,425.6L1134.1,429.7L1132.8,435.7L1132.0,440.1L1127.9,447.0L1125.1,451.8L1122.0,455.8L1119.0,457.4L1115.5,461.4L1112.3,465.1L1108.5,468.7L1106.1,471.9L1103.7,475.9L1098.4,477.1L1094.7,477.9L1088.8,482.3L1086.9,480.3L1085.9,478.3L1082.3,479.5L1078.2,481.1L1074.1,479.5L1071.9,477.9L1070.6,475.1L1071.1,471.9L1069.6,468.3L1069.2,466.3L1071.2,463.9L1070.6,462.7L1067.6,466.7L1064.8,467.1L1068.9,461.9L1072.1,456.2L1068.5,460.2L1064.0,464.3L1061.1,465.5L1060.9,462.7L1059.7,457.0L1058.2,454.6L1053.4,453.8L1051.5,451.8L1045.5,452.2L1039.6,454.6L1032.7,455.0L1026.6,457.8L1024.1,460.2L1022.0,461.4L1016.6,461.4L1009.7,461.9L1003.9,465.1L1001.5,466.3L997.0,465.9L993.1,463.5L993.7,460.2L996.5,459.0L998.2,453.8L998.1,449.8L998.9,443.7L998.2,440.9L997.4,435.7L996.6,431.7L998.6,427.6L998.4,423.6L1000.5,417.6L1002.3,412.7L1003.4,414.8L1007.4,411.5L1012.2,407.9L1014.9,408.3L1019.0,406.7L1022.4,405.5L1027.9,403.5L1031.0,399.5L1033.1,397.5L1033.9,394.2L1036.5,391.0L1038.7,393.0L1039.1,390.2L1041.7,389.4L1042.8,386.6L1046.8,383.4L1049.4,381.8L1052.4,380.5L1055.5,384.6L1057.1,385.4L1059.6,385.4L1060.7,385.0L1061.9,380.5L1064.4,377.3L1066.4,374.9L1070.0,374.1L1072.9,373.7L1072.8,371.3L1076.2,372.5L1079.6,373.7L1083.1,374.1L1086.8,372.9L1088.0,374.9L1086.2,378.1L1083.7,380.5L1081.8,385.4L1084.2,387.8L1087.8,391.0L1091.0,393.0L1094.0,395.4L1098.7,395.0L1101.8,389.4L1103.5,383.4L1104.5,375.3L1106.6,370.1ZM1079.4,488.7L1082.9,490.3L1088.3,489.5L1090.9,489.5L1087.7,494.7L1083.6,498.7L1080.9,499.9L1076.8,500.3L1077.7,494.7L1078.2,491.1ZM1186.5,463.5L1188.0,465.9L1189.0,468.7L1187.9,473.1L1190.8,472.3L1189.8,475.9L1192.5,477.5L1197.3,476.7L1195.0,480.3L1192.2,482.7L1188.2,484.3L1186.0,486.7L1180.4,490.7L1176.9,492.3L1175.5,491.1L1179.5,487.9L1179.0,485.5L1178.5,483.1L1182.8,480.3L1185.9,475.9L1187.0,471.9L1186.1,469.1L1185.9,466.7ZM1171.3,487.9L1171.8,489.9L1173.9,491.1L1172.7,493.1L1168.1,496.3L1163.5,499.5L1163.3,501.1L1160.4,501.5L1155.7,503.4L1150.8,507.8L1148.8,509.4L1143.7,511.7L1139.6,512.1L1136.5,510.5L1136.8,508.2L1140.0,505.8L1146.0,502.3L1151.6,500.3L1157.2,497.9L1162.7,493.9L1164.9,492.3L1168.8,489.1ZM54.0,238.1L56.2,237.7L56.1,239.3L54.4,239.3ZM49.5,235.6L51.2,235.6L50.9,236.9L49.5,236.9ZM57.1,239.7L61.4,240.5L60.9,242.1L59.2,242.1L58.8,240.9ZM544.1,209.1L559.6,207.5L559.4,212.3L550.7,213.1L543.8,213.5ZM387.9,258.6L390.0,258.6L389.7,261.0L387.6,261.0ZM389.3,265.0L390.8,265.0L390.6,267.0L389.2,267.0ZM335.4,216.7L340.5,216.7L338.8,220.3L336.1,218.3ZM335.0,223.6L337.1,223.6L336.4,228.4L334.3,228.4ZM1075.4,150.1L1079.1,145.8L1083.3,140.2L1085.3,134.3L1087.3,128.5L1088.8,122.6L1086.3,121.4L1084.8,127.3L1082.9,133.2L1080.9,139.1L1076.8,144.6L1074.1,148.9ZM111.4,109.5L115.7,108.4L110.7,111.1L106.4,111.4ZM99.8,113.4L104.5,111.8L101.5,113.7ZM253.0,621.9L266.4,618.9L280.6,615.8L290.8,614.3L305.3,611.8L320.0,612.5L331.4,613.8L351.7,615.3L360.0,615.0L364.7,607.4L375.6,609.3L391.3,608.0L406.9,608.6L419.4,610.3L427.2,611.5L431.5,608.0L433.4,600.0L435.0,592.0L439.0,586.0L444.0,581.0L449.0,577.5L455.3,574.4L457.5,576.2L452.5,580.5L447.0,586.0L444.5,591.0L447.5,593.1L454.0,596.5L460.0,601.0L465.0,605.0L467.8,608.7L466.3,613.4L453.8,618.1L441.3,619.7L428.8,621.3L427.2,624.4L440.0,627.5L453.8,630.6L475.0,634.0L495.9,636.9L516.3,633.8L528.0,630.0L536.6,625.5L540.0,623.8L556.3,620.7L566.0,617.5L574.5,613.6L576.6,608.5L586.7,603.4L601.0,602.4L631.4,600.4L661.9,599.4L680.0,598.0L698.4,596.3L702.5,594.3L722.8,592.3L743.1,588.2L753.3,585.2L763.4,586.2L780.0,590.0L792.0,592.3L784.0,604.5L792.2,603.5L810.5,597.4L830.8,590.3L849.0,587.3L865.0,586.0L881.6,585.2L912.0,585.2L942.5,587.3L960.0,586.2L974.0,584.0L988.1,588.3L1002.2,592.5L1019.0,596.7L1040.2,603.0L1023.3,608.0L1009.2,612.2L1003.0,616.0L1000.0,628.0L1001.0,638.0L1006.2,641.8L1001.1,643.4L990.8,646.5L980.6,649.7L299.4,649.7L289.2,646.5L278.9,643.4L273.8,641.8L300.0,641.5L340.0,641.9L336.5,641.2L303.0,638.7L297.9,635.6L296.9,629.5L284.0,627.5L270.5,625.5L253.2,623.4ZM502.0,624.5L510.0,623.4L519.0,624.6L521.5,628.2L513.0,630.4L503.5,629.6ZM328.1,30.6L336.7,28.3L348.4,27.5L350.8,29.8L360.2,30.6L365.6,29.1L366.4,33.0L357.8,34.1L348.4,35.3L340.6,36.1L332.8,33.0ZM357.0,25.2L368.8,24.4L368.8,27.5L357.8,27.5ZM371.9,30.6L379.7,29.8L387.5,30.6L385.9,33.8L378.1,34.5L372.7,33.0ZM391.4,29.1L403.1,30.6L412.3,29.8L426.1,32.1L423.8,35.6L406.5,36.1L399.2,35.3L392.2,33.0ZM404.7,19.7L414.8,17.3L418.1,16.5L429.6,14.8L446.9,13.1L464.2,12.2L485.0,13.1L487.3,15.4L475.7,18.8L459.6,20.6L450.4,25.2L441.1,28.1L429.6,29.8L418.1,28.1L406.5,26.9L405.5,22.8ZM451.5,24.6L455.0,20.5L466.0,18.5L478.0,16.5L486.0,15.5L487.0,20.0L482.7,31.5L470.0,31.0L457.3,29.8ZM336.7,41.6L344.5,40.0L353.9,40.8L354.7,47.8L348.4,54.1L339.1,53.3L335.9,47.8ZM362.5,41.6L371.9,38.4L379.7,39.2L384.4,44.7L382.8,50.2L378.1,55.6L370.3,57.2L364.1,54.1L368.8,47.8L364.1,46.3ZM389.8,40.8L399.2,38.4L410.9,39.2L418.8,40.8L425.0,40.0L425.0,47.8L414.8,49.4L403.1,48.6L393.8,49.4L389.1,46.3ZM399.6,43.1L412.3,39.6L423.8,40.8L433.1,44.2L441.1,50.0L449.2,61.5L443.4,66.1L434.2,65.0L433.1,74.2L423.8,78.8L415.8,74.2L414.6,66.1L408.8,59.2L401.9,53.4L398.5,48.8Z" fill="#c1c1c1" stroke="none"/>
<path d="M696.6,154.1L698.5,157.7L701.8,159.3L708.4,159.7L715.5,156.1L721.0,155.7L726.2,158.9L732.9,160.5L737.8,160.1L742.4,158.1L742.9,155.3L736.5,150.5L730.5,146.6L726.0,144.2L724.5,142.6L721.2,143.8L718.3,146.2L715.1,145.8L713.1,142.6L711.5,142.6L714.6,139.5L708.8,138.3L705.3,138.3L702.5,141.8L702.5,145.0L699.5,147.3L697.9,150.9ZM719.4,142.2L720.5,143.0L724.5,142.6L726.7,137.9L731.8,135.5L728.7,135.9L720.6,139.1L719.3,141.4ZM757.9,144.2L759.4,141.8L763.1,138.3L768.9,135.9L775.4,136.7L777.2,142.2L772.0,146.2L772.9,151.3L778.1,154.5L779.6,159.3L783.4,161.7L781.4,166.9L785.6,174.9L786.0,176.9L778.0,176.9L772.6,174.5L768.8,171.3L769.5,166.5L769.2,162.9L771.8,162.5L768.7,160.1L764.8,156.5L760.9,152.5L759.9,148.1L757.2,145.8ZM792.0,137.9L797.7,140.2L802.1,142.6L804.7,146.6L802.2,149.7L797.3,149.3L793.4,142.2ZM842.0,138.3L848.3,138.3L855.8,137.1L858.1,139.1L852.3,140.6L845.9,140.6L842.6,140.2ZM925.4,118.0L928.9,117.2L931.5,113.7L934.3,108.4L933.6,102.7L932.2,101.9L932.1,107.2L930.0,112.2L927.0,116.4ZM318.5,137.5L324.2,135.5L330.5,132.4L336.8,129.2L341.2,129.6L342.9,134.0L341.6,137.9L335.4,138.3L331.3,135.1L324.8,137.5ZM322.5,157.3L327.0,155.3L330.5,150.1L332.6,146.2L337.4,142.6L339.4,141.0L334.3,140.6L330.9,143.0L326.8,147.0L324.0,153.3ZM340.3,140.6L344.1,139.8L350.1,140.6L353.5,142.2L350.3,145.8L347.6,144.6L345.1,150.5L342.2,152.1L342.6,148.1L340.4,148.1L342.4,144.2L340.3,141.8ZM336.8,157.3L340.2,156.1L345.6,154.9L352.4,152.5L353.2,152.9L347.0,155.3L338.9,158.5ZM351.1,150.9L357.7,148.9L363.8,147.3L363.0,150.1L358.5,150.9L352.9,151.3ZM310.2,123.0L315.4,118.8L316.3,112.2L313.9,109.9L312.1,114.9L312.3,120.7ZM282.9,82.9L296.5,77.5L307.2,76.4L296.5,80.4L286.8,83.3ZM276.5,67.4L290.4,62.3L298.0,62.6L292.1,66.7L284.8,68.5L280.0,69.2ZM717.5,327.0L719.3,323.8L722.8,323.4L725.7,325.8L724.6,331.0L722.8,335.1L719.9,335.5L717.1,331.0ZM708.2,338.7L709.2,345.1L712.0,350.8L713.4,355.2L714.7,360.0L713.0,359.2L710.2,353.2L708.1,347.1L707.5,341.1ZM725.0,363.2L727.0,367.3L727.5,375.3L728.8,382.6L726.7,381.4L725.5,373.3L724.5,367.3Z" fill="#fff" stroke="none"/>
<path d="M226.0,128.5L313.2,128.5L314.1,126.9L314.5,129.6L319.3,130.0L324.7,131.6L328.6,132.4M370.1,144.2L380.3,144.2L382.1,143.0L385.6,140.6L387.8,137.5L391.5,134.7L394.4,135.1L395.4,135.9L393.2,141.4L394.3,143.4M353.2,151.3L353.0,152.5M341.2,153.7L342.2,152.1M252.4,52.6L212.5,85.5L216.9,86.5L218.1,89.5L222.5,88.0L226.1,87.3L227.0,92.2L225.4,99.7L227.6,101.9L221.9,106.4M210.1,194.2L218.5,193.4L217.9,194.2L228.9,199.0L238.4,199.0L239.2,197.0L244.9,197.0L248.7,205.9L252.9,208.3L256.1,205.1L259.5,205.1L262.5,212.3L263.7,214.3L270.0,220.8M280.1,266.2L280.4,263.8L282.6,260.2L287.2,260.2L288.2,253.4L292.7,253.4L295.9,250.5M292.4,253.4L291.3,261.0M289.9,267.0L294.7,261.8M295.1,271.1L301.7,268.6L307.3,265.0L311.9,264.6M301.7,280.3L308.0,281.5M310.5,291.6L311.1,286.4M352.8,277.5L348.3,280.7L346.2,286.8L347.6,292.8L349.2,296.8L356.3,296.8L365.0,300.0L364.8,308.9L363.5,316.9L366.3,320.2M324.0,319.4L332.5,323.8L336.7,325.4M319.2,338.7L322.2,343.1L326.0,339.1L333.7,335.1L336.7,325.4M336.7,325.4L343.2,329.8L348.6,334.3L355.9,341.9M355.9,341.9L357.4,329.0L355.6,322.6L358.5,321.0L366.3,320.2M392.0,290.8L387.6,294.8L390.0,297.6L387.4,300.8L389.0,304.1M389.0,304.1L380.7,309.3L374.7,308.5L377.1,314.9L371.6,321.4L366.3,320.2M401.5,301.3L398.5,308.9L403.7,317.4M412.9,302.1L412.7,310.5L410.5,315.7M389.0,304.1L391.5,304.1L392.3,317.8L398.3,319.0L403.7,317.4L410.5,315.7L417.2,316.1L421.2,308.1M355.9,341.9L346.0,345.9L344.6,353.2L342.2,355.2L346.2,363.2L349.1,365.3L355.4,369.3L358.9,369.3M358.9,369.3L362.2,375.3L361.9,385.4L360.8,391.4L361.3,395.4M361.3,395.4L358.8,398.7M358.9,369.3L364.2,368.1L369.2,364.4L373.7,368.5L374.1,373.3L382.4,376.1L387.9,379.7L392.9,385.4L393.4,390.6L399.7,390.6L401.6,395.4L403.2,405.1M403.2,405.1L398.4,402.7L389.5,407.9L388.5,413.6M388.5,413.6L381.9,416.8L376.3,413.6L371.8,416.8M361.3,395.4L365.4,401.5L367.7,411.5L371.8,416.8M371.8,416.8L368.2,423.6L369.5,433.7L367.2,441.7L368.4,451.8L370.4,459.8L370.8,465.9L370.9,473.9L373.3,483.9L373.4,489.9L377.1,499.9L380.5,507.8L381.3,515.7L382.1,523.5L387.0,528.6L396.9,533.2M388.5,413.6L393.7,419.6L403.0,425.6L406.1,434.5L413.2,435.7L416.9,428.0M403.2,405.1L403.4,413.6L410.5,414.8L412.8,419.6L416.1,421.6L416.9,428.0M416.9,428.0L420.3,430.1L420.6,434.5L414.4,438.9L409.4,446.6M409.4,446.6L416.1,449.4L423.8,453.8L426.5,460.6M409.4,446.6L409.3,455.8L409.9,461.9M600.4,184.1L600.5,192.2L596.5,198.2L588.9,202.2L575.9,209.5M575.9,209.5L575.8,213.5L560.3,213.5M575.7,215.1L575.5,220.3L564.1,220.3L563.7,230.4L559.9,238.5L546.3,239.3M575.7,215.1L588.8,224.4L582.9,224.4L585.6,258.6L585.5,262.6L564.7,262.6L561.8,265.8M588.8,224.4L609.3,240.5L619.7,247.7L619.6,257.4M638.3,203.4L640.0,216.3L645.2,227.2M634.4,176.5L634.6,185.7L631.6,190.2L638.3,203.4M645.1,191.4L640.7,197.0L638.3,203.4M645.2,227.2L653.9,234.0L659.1,232.4L688.9,246.5M690.9,197.8L692.2,236.4M688.9,246.5L688.9,244.5L692.4,244.5L692.2,236.4M692.2,236.4L733.6,236.4M645.2,227.2L631.3,241.3L619.7,247.7M619.6,257.4L617.5,262.6L609.4,263.4L605.9,265.0M659.1,232.4L657.4,242.5L659.9,244.9L652.7,268.6M652.7,269.9L648.8,271.9L640.0,271.5L631.2,272.3L618.8,270.7L617.4,277.9M617.4,277.9L614.1,288.8L614.1,299.2M652.7,269.9L654.8,275.9L651.3,284.3L647.1,294.8L641.8,296.8L638.2,300.8L635.0,305.7M688.9,246.5L688.9,262.2L683.7,268.2L683.4,273.9L685.6,279.1L684.2,280.7M684.2,280.7L675.4,288.8L670.5,288.8L664.8,293.2L659.5,294.8M659.5,294.8L654.9,286.8L660.2,284.7L655.9,274.7L654.8,272.3M689.6,288.8L700.2,286.4L707.3,286.4L714.3,286.0L719.4,275.9L722.4,282.7L726.0,284.7M726.0,284.7L729.3,274.7L733.4,267.4L735.0,262.6L739.9,253.0M733.4,267.4L738.6,266.6L745.7,266.6L751.1,272.7L754.4,274.7M689.6,288.8L686.1,292.0L695.0,302.9L701.4,304.1L712.8,310.1L715.3,309.7L723.5,309.7M726.0,284.7L725.4,290.8L721.2,293.6L728.7,302.9L725.2,308.1M756.3,280.7L760.4,288.8L774.7,292.8L766.0,304.9L753.3,308.9M753.3,308.9L744.8,310.9L732.3,306.9L728.8,304.9M750.1,308.9L750.2,331.8M743.7,343.9L737.7,337.9L725.3,329.0M725.3,329.0L725.3,321.0L728.8,316.9L725.2,308.1M709.7,330.6L710.4,323.0L713.9,316.9L715.3,309.7M670.5,310.9L673.7,304.5L683.7,308.1L695.0,303.7L701.4,304.1M647.8,348.3L650.7,344.3L659.5,341.9L662.0,333.1L666.7,326.2L667.7,319.0L670.5,310.9M647.8,349.2L661.3,349.2L666.6,357.2L671.9,357.2L680.8,355.2L682.5,364.0L689.5,369.3L689.4,376.9M689.4,376.9L696.5,372.9L705.3,375.3L709.8,378.9L709.2,374.1L705.5,361.2M705.5,361.2L708.2,343.1M708.2,343.1L707.5,335.1L709.7,330.6M639.3,315.7L644.6,316.1L651.7,316.1L661.3,316.9L662.0,310.9M659.5,294.8L656.0,304.9L661.3,316.1M662.0,310.9L670.5,310.9M643.9,340.7L646.4,335.1L654.2,334.3L652.4,327.0L656.0,319.0L651.7,316.1M646.3,394.6L652.3,393.4L669.8,395.0L678.2,397.5L687.0,395.8M689.4,376.9L682.3,377.3L682.2,390.2L687.0,395.8M675.0,399.1L678.5,398.7L678.3,413.6L674.8,413.6L674.6,424.8M674.6,424.8L674.3,439.3L662.3,440.1M674.6,424.8L683.1,430.5L693.5,428.4L698.9,421.6L707.5,414.4M707.5,414.4L701.1,407.5L696.1,397.5L693.3,396.6M693.3,396.6L703.2,391.4L711.7,387.8M711.7,387.8L720.8,391.4L720.1,401.5L718.4,409.5L714.1,415.2M714.1,415.2L716.0,427.6L718.8,433.3M711.7,387.8L721.0,382.2L723.0,373.3L722.5,363.6M722.5,363.6L714.4,359.6M726.6,371.3L737.2,371.7L747.5,367.3M728.8,393.4L730.7,389.4L728.1,382.2L726.6,371.3M561.8,265.8L564.5,275.1L566.9,277.1L572.2,274.7L575.3,280.7L574.9,284.7M574.9,284.7L585.2,283.1L587.0,278.7L589.6,271.9L597.8,265.4L605.9,265.0M585.2,283.1L594.7,286.4L604.3,280.3L607.8,280.7L612.8,276.3M594.7,286.4L593.2,298.8L594.2,304.9M604.3,280.3L605.6,290.8L608.8,300.4M545.9,271.1L556.1,270.7L549.7,272.3L545.5,272.3M545.7,275.1L556.4,273.9L561.6,275.1M557.5,288.8L564.6,284.7L567.4,291.6L563.8,297.2M574.9,284.7L575.5,294.8L577.9,307.3M574.9,284.7L570.9,290.8L567.4,291.6M605.9,265.0L610.0,272.7L612.8,276.3L613.2,277.1L617.4,277.9M602.1,150.5L610.0,152.9L618.0,154.5M578.7,156.5L586.5,156.5L584.9,160.1L584.2,165.3L583.1,166.9L584.0,168.9L581.9,175.3M617.0,120.3L622.1,124.9L627.0,126.5L634.4,128.5L632.5,134.0L627.4,138.7L630.5,140.6L629.5,144.2L632.0,148.9M619.8,119.1L626.3,119.5L627.7,121.4M631.6,112.2L630.3,116.1L627.8,120.7L628.9,126.5M635.8,105.7L639.7,106.0M652.6,109.5L653.9,114.9L655.3,120.7M646.5,123.4L650.7,121.8L655.3,120.7M632.5,134.0L638.4,134.3L641.6,134.3L649.4,134.3L651.8,129.6L646.5,123.4M655.3,120.7L660.0,123.8L667.6,126.5L678.8,128.1M678.8,128.1L683.0,122.6L681.3,116.8L680.4,109.5M680.4,109.5L677.9,107.6L668.6,107.6M672.6,101.2L681.1,100.4L689.0,102.7M680.4,109.5L687.9,109.1L689.0,102.7L693.5,101.2L691.4,95.9L691.4,88.8M681.4,94.4L690.5,95.9M681.5,118.8L688.7,117.2L702.6,119.5L706.2,116.4M706.2,116.4L708.3,111.8L702.8,109.1L702.0,102.7L693.5,101.2M706.2,116.4L712.8,115.7L718.5,123.0L727.0,124.5L732.8,126.1L733.6,131.2L729.3,134.0L728.7,135.9M678.8,128.1L678.0,130.8L683.8,132.8L691.8,131.2L696.5,131.6L700.2,134.3L701.9,138.7L700.1,142.6M697.8,142.2L690.7,140.2L680.4,132.8L674.8,139.1L672.6,139.8L676.6,143.4L680.6,146.2L689.8,149.3L697.7,148.9M698.3,156.1L693.2,156.9L685.5,158.1L682.0,158.9L680.1,154.9L680.0,147.3M644.0,90.3L647.0,82.9L646.3,75.7L651.6,68.1L656.8,59.8L661.3,56.4L667.1,54.3L673.7,56.0L680.8,54.7L683.4,51.2L688.7,52.2M667.1,54.3L674.6,56.4L677.5,65.7M688.7,52.2L689.1,54.7L688.3,58.1L692.6,59.8L692.1,65.0L694.0,68.5L694.7,73.2L699.4,76.4L694.7,82.2L690.3,84.7M630.5,140.6L635.3,139.1L641.6,138.3L646.9,135.9L651.7,138.3L651.7,141.4M651.7,138.3L660.5,138.3L667.9,140.6L670.2,143.4L668.8,147.0L670.6,152.1L673.9,154.1L680.4,154.9M673.9,154.1L672.4,156.9L674.2,160.1L676.0,163.3M682.0,158.9L675.5,160.5M660.5,138.3L659.1,133.2L662.2,132.4L667.6,126.5M658.1,143.4L668.7,144.6M664.5,152.1L667.5,154.1M693.2,156.9L693.1,160.5M726.8,180.1L733.1,176.9L747.2,175.7L755.5,175.3L752.7,166.1L749.1,159.7L745.6,158.1M747.2,175.7L744.8,186.5L737.1,190.6M726.4,191.4L730.7,195.0L737.1,190.6M737.1,190.6L738.9,195.4L731.7,198.2L735.6,204.2L730.6,206.7L725.1,206.3M724.7,191.8L726.4,191.4L726.9,185.7M722.2,199.0L725.1,206.3M738.9,195.4L745.3,198.6L758.7,207.5L764.9,207.9L769.2,210.3M755.5,175.3L758.5,180.5L761.3,184.1L759.8,188.1L767.9,194.6L768.2,200.2L771.4,204.2M785.6,174.9L795.3,171.3L808.7,177.7L811.2,182.1L810.2,190.2L812.5,198.2L815.6,199.0L819.5,206.7L815.0,212.3L821.6,215.5L818.4,223.6M752.7,166.1L760.2,168.5L765.4,170.1M736.5,150.5L744.6,151.3L751.4,153.3L758.4,156.5L763.0,159.3L764.8,156.5M742.4,158.1L749.1,159.7L758.9,159.7M755.2,259.0L761.0,255.0L769.8,256.6L776.5,250.1L786.9,248.5L797.2,244.5L798.7,236.4L797.1,233.6L785.9,232.4L784.1,227.6M786.9,248.5L788.2,258.2L791.3,258.2M799.2,224.8L798.7,228.4L800.6,224.8M763.8,138.7L761.3,135.5L754.9,128.5L753.0,122.2L758.9,122.2L764.0,118.0L772.4,118.8L780.4,122.2L792.1,122.2L797.7,121.4L792.7,117.2L793.2,111.1L793.2,109.1L803.8,106.8L814.6,103.8L822.4,108.7L830.5,111.1L839.0,109.1L848.2,113.4L856.3,119.5L862.9,120.7L872.6,127.7L879.8,127.7M879.8,127.7L877.5,136.3L869.4,135.5L870.3,142.2L863.4,144.2L867.6,155.3M867.6,155.3L862.6,152.9L849.7,152.9L838.1,155.3L837.4,158.5L830.6,160.1L823.2,156.5L820.5,152.1L815.1,150.1L803.9,147.3L794.1,142.2L786.6,144.2L789.7,158.9L783.3,154.9L779.6,159.3M789.7,158.9L794.5,158.9L801.9,155.3L807.5,158.9L812.2,164.9L819.6,168.9L827.3,174.5L832.7,176.1L838.8,173.7L843.5,172.5L847.6,176.1L855.3,174.9M837.4,158.5L846.1,162.9L850.2,166.1M832.7,176.1L832.1,166.1L838.6,165.7L849.0,166.5M855.3,174.9L844.8,178.1L844.8,186.1L842.2,190.2L842.0,198.2L835.3,199.0L832.2,204.7L821.2,206.3L813.5,205.1M881.3,127.7L895.7,138.3L904.5,144.2L919.2,153.3L933.9,153.7L948.6,157.7L958.5,154.5L966.8,149.3L963.4,144.2L970.6,142.6L977.0,138.7L985.1,136.3L973.7,126.5M881.3,127.7L885.3,124.5L893.0,121.4L910.4,125.3L908.0,116.8L921.1,119.5L935.6,123.4L945.3,127.3L960.4,123.8L969.7,125.3M973.7,126.5L978.3,123.8L973.4,111.8L981.0,111.1L992.7,114.9L1002.6,124.5L1014.5,128.8L1023.8,131.2L1029.1,131.2L1031.4,138.3L1032.0,143.8L1026.4,144.6L1030.2,152.5L1030.0,154.5M1030.0,154.5L1026.7,154.5L1024.3,158.5L1018.6,158.1L1014.7,164.5M1024.6,172.9L1028.0,170.9L1030.5,169.7M867.6,155.3L861.3,159.3L855.8,162.5L850.2,166.1L849.4,168.1L855.6,174.9M855.3,174.9L864.1,182.1L870.0,186.1L875.1,194.2L874.7,200.2L882.2,203.4L885.8,204.2L893.5,209.5L900.8,212.3L908.1,212.7L910.9,215.1L914.4,211.5L921.6,213.1L927.3,207.5L934.0,206.7L940.0,211.1L944.5,216.3L945.8,226.4L943.3,228.4L949.5,235.2L954.1,238.5L957.8,239.7L959.8,234.8L964.9,233.6L971.6,232.4L975.9,233.2L981.2,238.1M864.1,182.1L861.2,192.2L858.2,194.2L861.5,195.4L859.4,200.2L857.8,202.6L852.8,212.3L847.7,213.1L845.0,218.3L851.2,226.4L843.7,227.2L842.2,230.0M880.1,209.1L885.4,212.3L894.3,214.3L901.8,217.9L909.1,218.3L908.1,212.7M912.4,219.1L911.1,226.4L914.9,236.4M915.4,220.8L924.3,224.0L924.9,228.4L921.7,230.4L926.7,236.4M927.0,238.5L929.2,234.4L929.4,228.4L932.3,222.4L934.4,217.1L938.8,213.5L940.0,211.1M954.4,242.9L950.6,245.7L947.4,250.5L952.3,259.4L950.5,264.6L954.2,271.5L953.6,284.7M954.4,242.9L958.7,246.5L957.7,254.6L964.1,253.0L972.9,258.2L976.4,267.0M959.8,234.8L969.7,242.5L968.6,247.3L975.1,251.3L978.7,257.4L982.8,261.4L983.7,266.6M966.5,274.7L968.3,267.0L976.4,267.0L983.7,266.6L984.1,274.7L977.7,281.1L974.3,283.1M960.3,298.8L964.7,301.7L966.8,300.0M993.9,316.9L999.7,320.6L1006.1,319.0L1011.4,319.0L1014.7,310.9L1016.4,307.7L1022.1,308.1M1105.4,335.5L1103.9,361.6M1046.9,362.0L1047.5,363.2" fill="none" stroke="#fff" stroke-opacity="0.6" stroke-width="0.9" stroke-linejoin="round"/>
<g id="logo">
<path d="M881.3,635.6L898.3,623.5L910,623.5L927.2,635.6Z" fill="#333"/>
<text x="896.6" y="620.3" font-family="'Liberation Sans',sans-serif" font-weight="bold" font-size="21.2" fill="#333" stroke="#333" stroke-width="0.5" textLength="110" lengthAdjust="spacingAndGlyphs">VOLCANO</text>
<text x="931.6" y="635.6" font-family="'Liberation Sans',sans-serif" font-weight="bold" font-size="17.6" fill="#c8202e" textLength="97" lengthAdjust="spacingAndGlyphs">DISCOVERY</text>
</g>

<g id="quakes">
<circle cx="1071.4" cy="159.0" r="33.30" fill="none" stroke="#86862a" stroke-opacity="0.29" stroke-width="2.8"/><circle cx="1071.4" cy="159.0" r="33.30" fill="none" stroke="#bcbc3c" stroke-opacity="0.38" stroke-width="1.5"/><circle cx="1071.4" cy="159.0" r="30.85" fill="none" stroke="#fff" stroke-opacity="0.44" stroke-width="2.2"/><circle cx="1071.4" cy="159.0" r="28.40" fill="none" stroke="#86862a" stroke-opacity="0.36" stroke-width="2.8"/><circle cx="1071.4" cy="159.0" r="28.40" fill="none" stroke="#bcbc3c" stroke-opacity="0.48" stroke-width="1.5"/><circle cx="1071.4" cy="159.0" r="25.95" fill="none" stroke="#fff" stroke-opacity="0.53" stroke-width="2.2"/><circle cx="1071.4" cy="159.0" r="23.50" fill="none" stroke="#86862a" stroke-opacity="0.44" stroke-width="2.8"/><circle cx="1071.4" cy="159.0" r="23.50" fill="none" stroke="#bcbc3c" stroke-opacity="0.59" stroke-width="1.5"/><circle cx="1071.4" cy="159.0" r="21.05" fill="none" stroke="#fff" stroke-opacity="0.62" stroke-width="2.2"/><circle cx="1071.4" cy="159.0" r="18.60" fill="none" stroke="#86862a" stroke-opacity="0.52" stroke-width="2.8"/><circle cx="1071.4" cy="159.0" r="18.60" fill="none" stroke="#bcbc3c" stroke-opacity="0.69" stroke-width="1.5"/><circle cx="1071.4" cy="159.0" r="16.15" fill="none" stroke="#fff" stroke-opacity="0.72" stroke-width="2.2"/><circle cx="1071.4" cy="159.0" r="13.70" fill="none" stroke="#86862a" stroke-opacity="0.59" stroke-width="2.8"/><circle cx="1071.4" cy="159.0" r="13.70" fill="none" stroke="#bcbc3c" stroke-opacity="0.79" stroke-width="1.5"/><circle cx="1071.4" cy="159.0" r="11.25" fill="none" stroke="#fff" stroke-opacity="0.81" stroke-width="2.2"/><circle cx="1071.4" cy="159.0" r="8.80" fill="none" stroke="#86862a" stroke-opacity="0.67" stroke-width="2.8"/><circle cx="1071.4" cy="159.0" r="8.80" fill="none" stroke="#bcbc3c" stroke-opacity="0.90" stroke-width="1.5"/><circle cx="1071.4" cy="159.0" r="6.35" fill="none" stroke="#fff" stroke-opacity="0.90" stroke-width="2.2"/><circle cx="1071.4" cy="159.0" r="3.90" fill="none" stroke="#86862a" stroke-opacity="0.75" stroke-width="2.8"/><circle cx="1071.4" cy="159.0" r="3.90" fill="none" stroke="#bcbc3c" stroke-opacity="1.00" stroke-width="1.5"/><circle cx="1071.4" cy="159.0" r="2.3" fill="#fff" fill-opacity="0.65"/>
<circle cx="217.4" cy="85.4" r="23.50" fill="none" stroke="#8c1828" stroke-opacity="0.29" stroke-width="2.8"/><circle cx="217.4" cy="85.4" r="23.50" fill="none" stroke="#d81030" stroke-opacity="0.38" stroke-width="1.5"/><circle cx="217.4" cy="85.4" r="21.05" fill="none" stroke="#fff" stroke-opacity="0.49" stroke-width="2.2"/><circle cx="217.4" cy="85.4" r="18.60" fill="none" stroke="#8c1828" stroke-opacity="0.40" stroke-width="2.8"/><circle cx="217.4" cy="85.4" r="18.60" fill="none" stroke="#d81030" stroke-opacity="0.54" stroke-width="1.5"/><circle cx="217.4" cy="85.4" r="16.15" fill="none" stroke="#fff" stroke-opacity="0.62" stroke-width="2.2"/><circle cx="217.4" cy="85.4" r="13.70" fill="none" stroke="#8c1828" stroke-opacity="0.52" stroke-width="2.8"/><circle cx="217.4" cy="85.4" r="13.70" fill="none" stroke="#d81030" stroke-opacity="0.69" stroke-width="1.5"/><circle cx="217.4" cy="85.4" r="11.25" fill="none" stroke="#fff" stroke-opacity="0.76" stroke-width="2.2"/><circle cx="217.4" cy="85.4" r="8.80" fill="none" stroke="#8c1828" stroke-opacity="0.63" stroke-width="2.8"/><circle cx="217.4" cy="85.4" r="8.80" fill="none" stroke="#d81030" stroke-opacity="0.84" stroke-width="1.5"/><circle cx="217.4" cy="85.4" r="6.35" fill="none" stroke="#fff" stroke-opacity="0.90" stroke-width="2.2"/><circle cx="217.4" cy="85.4" r="3.90" fill="none" stroke="#8c1828" stroke-opacity="0.75" stroke-width="2.8"/><circle cx="217.4" cy="85.4" r="3.90" fill="none" stroke="#d81030" stroke-opacity="1.00" stroke-width="1.5"/><circle cx="217.4" cy="85.4" r="2.3" fill="#fff" fill-opacity="0.65"/>
<circle cx="709.3" cy="175.3" r="23.50" fill="none" stroke="#12126e" stroke-opacity="0.29" stroke-width="2.8"/><circle cx="709.3" cy="175.3" r="23.50" fill="none" stroke="#1c1cd4" stroke-opacity="0.38" stroke-width="1.5"/><circle cx="709.3" cy="175.3" r="21.05" fill="none" stroke="#fff" stroke-opacity="0.49" stroke-width="2.2"/><circle cx="709.3" cy="175.3" r="18.60" fill="none" stroke="#12126e" stroke-opacity="0.40" stroke-width="2.8"/><circle cx="709.3" cy="175.3" r="18.60" fill="none" stroke="#1c1cd4" stroke-opacity="0.54" stroke-width="1.5"/><circle cx="709.3" cy="175.3" r="16.15" fill="none" stroke="#fff" stroke-opacity="0.62" stroke-width="2.2"/><circle cx="709.3" cy="175.3" r="13.70" fill="none" stroke="#12126e" stroke-opacity="0.52" stroke-width="2.8"/><circle cx="709.3" cy="175.3" r="13.70" fill="none" stroke="#1c1cd4" stroke-opacity="0.69" stroke-width="1.5"/><circle cx="709.3" cy="175.3" r="11.25" fill="none" stroke="#fff" stroke-opacity="0.76" stroke-width="2.2"/><circle cx="709.3" cy="175.3" r="8.80" fill="none" stroke="#12126e" stroke-opacity="0.63" stroke-width="2.8"/><circle cx="709.3" cy="175.3" r="8.80" fill="none" stroke="#1c1cd4" stroke-opacity="0.84" stroke-width="1.5"/><circle cx="709.3" cy="175.3" r="6.35" fill="none" stroke="#fff" stroke-opacity="0.90" stroke-width="2.2"/><circle cx="709.3" cy="175.3" r="3.90" fill="none" stroke="#12126e" stroke-opacity="0.75" stroke-width="2.8"/><circle cx="709.3" cy="175.3" r="3.90" fill="none" stroke="#1c1cd4" stroke-opacity="1.00" stroke-width="1.5"/><circle cx="709.3" cy="175.3" r="2.3" fill="#fff" fill-opacity="0.65"/>
<circle cx="1096.3" cy="118.4" r="23.50" fill="none" stroke="#86862a" stroke-opacity="0.29" stroke-width="2.8"/><circle cx="1096.3" cy="118.4" r="23.50" fill="none" stroke="#bcbc3c" stroke-opacity="0.38" stroke-width="1.5"/><circle cx="1096.3" cy="118.4" r="21.05" fill="none" stroke="#fff" stroke-opacity="0.49" stroke-width="2.2"/><circle cx="1096.3" cy="118.4" r="18.60" fill="none" stroke="#86862a" stroke-opacity="0.40" stroke-width="2.8"/><circle cx="1096.3" cy="118.4" r="18.60" fill="none" stroke="#bcbc3c" stroke-opacity="0.54" stroke-width="1.5"/><circle cx="1096.3" cy="118.4" r="16.15" fill="none" stroke="#fff" stroke-opacity="0.62" stroke-width="2.2"/><circle cx="1096.3" cy="118.4" r="13.70" fill="none" stroke="#86862a" stroke-opacity="0.52" stroke-width="2.8"/><circle cx="1096.3" cy="118.4" r="13.70" fill="none" stroke="#bcbc3c" stroke-opacity="0.69" stroke-width="1.5"/><circle cx="1096.3" cy="118.4" r="11.25" fill="none" stroke="#fff" stroke-opacity="0.76" stroke-width="2.2"/><circle cx="1096.3" cy="118.4" r="8.80" fill="none" stroke="#86862a" stroke-opacity="0.63" stroke-width="2.8"/><circle cx="1096.3" cy="118.4" r="8.80" fill="none" stroke="#bcbc3c" stroke-opacity="0.84" stroke-width="1.5"/><circle cx="1096.3" cy="118.4" r="6.35" fill="none" stroke="#fff" stroke-opacity="0.90" stroke-width="2.2"/><circle cx="1096.3" cy="118.4" r="3.90" fill="none" stroke="#86862a" stroke-opacity="0.75" stroke-width="2.8"/><circle cx="1096.3" cy="118.4" r="3.90" fill="none" stroke="#bcbc3c" stroke-opacity="1.00" stroke-width="1.5"/><circle cx="1096.3" cy="118.4" r="2.3" fill="#fff" fill-opacity="0.65"/>
<circle cx="1027.4" cy="229.1" r="23.50" fill="none" stroke="#8c1828" stroke-opacity="0.29" stroke-width="2.8"/><circle cx="1027.4" cy="229.1" r="23.50" fill="none" stroke="#d81030" stroke-opacity="0.38" stroke-width="1.5"/><circle cx="1027.4" cy="229.1" r="21.05" fill="none" stroke="#fff" stroke-opacity="0.49" stroke-width="2.2"/><circle cx="1027.4" cy="229.1" r="18.60" fill="none" stroke="#8c1828" stroke-opacity="0.40" stroke-width="2.8"/><circle cx="1027.4" cy="229.1" r="18.60" fill="none" stroke="#d81030" stroke-opacity="0.54" stroke-width="1.5"/><circle cx="1027.4" cy="229.1" r="16.15" fill="none" stroke="#fff" stroke-opacity="0.62" stroke-width="2.2"/><circle cx="1027.4" cy="229.1" r="13.70" fill="none" stroke="#8c1828" stroke-opacity="0.52" stroke-width="2.8"/><circle cx="1027.4" cy="229.1" r="13.70" fill="none" stroke="#d81030" stroke-opacity="0.69" stroke-width="1.5"/><circle cx="1027.4" cy="229.1" r="11.25" fill="none" stroke="#fff" stroke-opacity="0.76" stroke-width="2.2"/><circle cx="1027.4" cy="229.1" r="8.80" fill="none" stroke="#8c1828" stroke-opacity="0.63" stroke-width="2.8"/><circle cx="1027.4" cy="229.1" r="8.80" fill="none" stroke="#d81030" stroke-opacity="0.84" stroke-width="1.5"/><circle cx="1027.4" cy="229.1" r="6.35" fill="none" stroke="#fff" stroke-opacity="0.90" stroke-width="2.2"/><circle cx="1027.4" cy="229.1" r="3.90" fill="none" stroke="#8c1828" stroke-opacity="0.75" stroke-width="2.8"/><circle cx="1027.4" cy="229.1" r="3.90" fill="none" stroke="#d81030" stroke-opacity="1.00" stroke-width="1.5"/><circle cx="1027.4" cy="229.1" r="2.3" fill="#fff" fill-opacity="0.65"/>
<circle cx="1095.6" cy="280.2" r="23.50" fill="none" stroke="#8c1828" stroke-opacity="0.29" stroke-width="2.8"/><circle cx="1095.6" cy="280.2" r="23.50" fill="none" stroke="#d81030" stroke-opacity="0.38" stroke-width="1.5"/><circle cx="1095.6" cy="280.2" r="21.05" fill="none" stroke="#fff" stroke-opacity="0.49" stroke-width="2.2"/><circle cx="1095.6" cy="280.2" r="18.60" fill="none" stroke="#8c1828" stroke-opacity="0.40" stroke-width="2.8"/><circle cx="1095.6" cy="280.2" r="18.60" fill="none" stroke="#d81030" stroke-opacity="0.54" stroke-width="1.5"/><circle cx="1095.6" cy="280.2" r="16.15" fill="none" stroke="#fff" stroke-opacity="0.62" stroke-width="2.2"/><circle cx="1095.6" cy="280.2" r="13.70" fill="none" stroke="#8c1828" stroke-opacity="0.52" stroke-width="2.8"/><circle cx="1095.6" cy="280.2" r="13.70" fill="none" stroke="#d81030" stroke-opacity="0.69" stroke-width="1.5"/><circle cx="1095.6" cy="280.2" r="11.25" fill="none" stroke="#fff" stroke-opacity="0.76" stroke-width="2.2"/><circle cx="1095.6" cy="280.2" r="8.80" fill="none" stroke="#8c1828" stroke-opacity="0.63" stroke-width="2.8"/><circle cx="1095.6" cy="280.2" r="8.80" fill="none" stroke="#d81030" stroke-opacity="0.84" stroke-width="1.5"/><circle cx="1095.6" cy="280.2" r="6.35" fill="none" stroke="#fff" stroke-opacity="0.90" stroke-width="2.2"/><circle cx="1095.6" cy="280.2" r="3.90" fill="none" stroke="#8c1828" stroke-opacity="0.75" stroke-width="2.8"/><circle cx="1095.6" cy="280.2" r="3.90" fill="none" stroke="#d81030" stroke-opacity="1.00" stroke-width="1.5"/><circle cx="1095.6" cy="280.2" r="2.3" fill="#fff" fill-opacity="0.65"/>
<circle cx="846.4" cy="421.3" r="23.50" fill="none" stroke="#8c1828" stroke-opacity="0.29" stroke-width="2.8"/><circle cx="846.4" cy="421.3" r="23.50" fill="none" stroke="#d81030" stroke-opacity="0.38" stroke-width="1.5"/><circle cx="846.4" cy="421.3" r="21.05" fill="none" stroke="#fff" stroke-opacity="0.49" stroke-width="2.2"/><circle cx="846.4" cy="421.3" r="18.60" fill="none" stroke="#8c1828" stroke-opacity="0.40" stroke-width="2.8"/><circle cx="846.4" cy="421.3" r="18.60" fill="none" stroke="#d81030" stroke-opacity="0.54" stroke-width="1.5"/><circle cx="846.4" cy="421.3" r="16.15" fill="none" stroke="#fff" stroke-opacity="0.62" stroke-width="2.2"/><circle cx="846.4" cy="421.3" r="13.70" fill="none" stroke="#8c1828" stroke-opacity="0.52" stroke-width="2.8"/><circle cx="846.4" cy="421.3" r="13.70" fill="none" stroke="#d81030" stroke-opacity="0.69" stroke-width="1.5"/><circle cx="846.4" cy="421.3" r="11.25" fill="none" stroke="#fff" stroke-opacity="0.76" stroke-width="2.2"/><circle cx="846.4" cy="421.3" r="8.80" fill="none" stroke="#8c1828" stroke-opacity="0.63" stroke-width="2.8"/><circle cx="846.4" cy="421.3" r="8.80" fill="none" stroke="#d81030" stroke-opacity="0.84" stroke-width="1.5"/><circle cx="846.4" cy="421.3" r="6.35" fill="none" stroke="#fff" stroke-opacity="0.90" stroke-width="2.2"/><circle cx="846.4" cy="421.3" r="3.90" fill="none" stroke="#8c1828" stroke-opacity="0.75" stroke-width="2.8"/><circle cx="846.4" cy="421.3" r="3.90" fill="none" stroke="#d81030" stroke-opacity="1.00" stroke-width="1.5"/><circle cx="846.4" cy="421.3" r="2.3" fill="#fff" fill-opacity="0.65"/>
<circle cx="539.5" cy="558.0" r="23.50" fill="none" stroke="#86862a" stroke-opacity="0.29" stroke-width="2.8"/><circle cx="539.5" cy="558.0" r="23.50" fill="none" stroke="#bcbc3c" stroke-opacity="0.38" stroke-width="1.5"/><circle cx="539.5" cy="558.0" r="21.05" fill="none" stroke="#fff" stroke-opacity="0.49" stroke-width="2.2"/><circle cx="539.5" cy="558.0" r="18.60" fill="none" stroke="#86862a" stroke-opacity="0.40" stroke-width="2.8"/><circle cx="539.5" cy="558.0" r="18.60" fill="none" stroke="#bcbc3c" stroke-opacity="0.54" stroke-width="1.5"/><circle cx="539.5" cy="558.0" r="16.15" fill="none" stroke="#fff" stroke-opacity="0.62" stroke-width="2.2"/><circle cx="539.5" cy="558.0" r="13.70" fill="none" stroke="#86862a" stroke-opacity="0.52" stroke-width="2.8"/><circle cx="539.5" cy="558.0" r="13.70" fill="none" stroke="#bcbc3c" stroke-opacity="0.69" stroke-width="1.5"/><circle cx="539.5" cy="558.0" r="11.25" fill="none" stroke="#fff" stroke-opacity="0.76" stroke-width="2.2"/><circle cx="539.5" cy="558.0" r="8.80" fill="none" stroke="#86862a" stroke-opacity="0.63" stroke-width="2.8"/><circle cx="539.5" cy="558.0" r="8.80" fill="none" stroke="#bcbc3c" stroke-opacity="0.84" stroke-width="1.5"/><circle cx="539.5" cy="558.0" r="6.35" fill="none" stroke="#fff" stroke-opacity="0.90" stroke-width="2.2"/><circle cx="539.5" cy="558.0" r="3.90" fill="none" stroke="#86862a" stroke-opacity="0.75" stroke-width="2.8"/><circle cx="539.5" cy="558.0" r="3.90" fill="none" stroke="#bcbc3c" stroke-opacity="1.00" stroke-width="1.5"/><circle cx="539.5" cy="558.0" r="2.3" fill="#fff" fill-opacity="0.65"/>
<circle cx="659.4" cy="118.4" r="18.60" fill="none" stroke="#8c1828" stroke-opacity="0.29" stroke-width="2.8"/><circle cx="659.4" cy="118.4" r="18.60" fill="none" stroke="#d81030" stroke-opacity="0.38" stroke-width="1.5"/><circle cx="659.4" cy="118.4" r="16.15" fill="none" stroke="#fff" stroke-opacity="0.53" stroke-width="2.2"/><circle cx="659.4" cy="118.4" r="13.70" fill="none" stroke="#8c1828" stroke-opacity="0.44" stroke-width="2.8"/><circle cx="659.4" cy="118.4" r="13.70" fill="none" stroke="#d81030" stroke-opacity="0.59" stroke-width="1.5"/><circle cx="659.4" cy="118.4" r="11.25" fill="none" stroke="#fff" stroke-opacity="0.72" stroke-width="2.2"/><circle cx="659.4" cy="118.4" r="8.80" fill="none" stroke="#8c1828" stroke-opacity="0.59" stroke-width="2.8"/><circle cx="659.4" cy="118.4" r="8.80" fill="none" stroke="#d81030" stroke-opacity="0.79" stroke-width="1.5"/><circle cx="659.4" cy="118.4" r="6.35" fill="none" stroke="#fff" stroke-opacity="0.90" stroke-width="2.2"/><circle cx="659.4" cy="118.4" r="3.90" fill="none" stroke="#8c1828" stroke-opacity="0.75" stroke-width="2.8"/><circle cx="659.4" cy="118.4" r="3.90" fill="none" stroke="#d81030" stroke-opacity="1.00" stroke-width="1.5"/><circle cx="659.4" cy="118.4" r="2.3" fill="#fff" fill-opacity="0.65"/>
<circle cx="838.3" cy="163.3" r="18.60" fill="none" stroke="#8c1828" stroke-opacity="0.29" stroke-width="2.8"/><circle cx="838.3" cy="163.3" r="18.60" fill="none" stroke="#d81030" stroke-opacity="0.38" stroke-width="1.5"/><circle cx="838.3" cy="163.3" r="16.15" fill="none" stroke="#fff" stroke-opacity="0.53" stroke-width="2.2"/><circle cx="838.3" cy="163.3" r="13.70" fill="none" stroke="#8c1828" stroke-opacity="0.44" stroke-width="2.8"/><circle cx="838.3" cy="163.3" r="13.70" fill="none" stroke="#d81030" stroke-opacity="0.59" stroke-width="1.5"/><circle cx="838.3" cy="163.3" r="11.25" fill="none" stroke="#fff" stroke-opacity="0.72" stroke-width="2.2"/><circle cx="838.3" cy="163.3" r="8.80" fill="none" stroke="#8c1828" stroke-opacity="0.59" stroke-width="2.8"/><circle cx="838.3" cy="163.3" r="8.80" fill="none" stroke="#d81030" stroke-opacity="0.79" stroke-width="1.5"/><circle cx="838.3" cy="163.3" r="6.35" fill="none" stroke="#fff" stroke-opacity="0.90" stroke-width="2.2"/><circle cx="838.3" cy="163.3" r="3.90" fill="none" stroke="#8c1828" stroke-opacity="0.75" stroke-width="2.8"/><circle cx="838.3" cy="163.3" r="3.90" fill="none" stroke="#d81030" stroke-opacity="1.00" stroke-width="1.5"/><circle cx="838.3" cy="163.3" r="2.3" fill="#fff" fill-opacity="0.65"/>
<circle cx="844.2" cy="184.0" r="18.60" fill="none" stroke="#1a5e1e" stroke-opacity="0.29" stroke-width="2.8"/><circle cx="844.2" cy="184.0" r="18.60" fill="none" stroke="#22a428" stroke-opacity="0.38" stroke-width="1.5"/><circle cx="844.2" cy="184.0" r="16.15" fill="none" stroke="#fff" stroke-opacity="0.53" stroke-width="2.2"/><circle cx="844.2" cy="184.0" r="13.70" fill="none" stroke="#1a5e1e" stroke-opacity="0.44" stroke-width="2.8"/><circle cx="844.2" cy="184.0" r="13.70" fill="none" stroke="#22a428" stroke-opacity="0.59" stroke-width="1.5"/><circle cx="844.2" cy="184.0" r="11.25" fill="none" stroke="#fff" stroke-opacity="0.72" stroke-width="2.2"/><circle cx="844.2" cy="184.0" r="8.80" fill="none" stroke="#1a5e1e" stroke-opacity="0.59" stroke-width="2.8"/><circle cx="844.2" cy="184.0" r="8.80" fill="none" stroke="#22a428" stroke-opacity="0.79" stroke-width="1.5"/><circle cx="844.2" cy="184.0" r="6.35" fill="none" stroke="#fff" stroke-opacity="0.90" stroke-width="2.2"/><circle cx="844.2" cy="184.0" r="3.90" fill="none" stroke="#1a5e1e" stroke-opacity="0.75" stroke-width="2.8"/><circle cx="844.2" cy="184.0" r="3.90" fill="none" stroke="#22a428" stroke-opacity="1.00" stroke-width="1.5"/><circle cx="844.2" cy="184.0" r="2.3" fill="#fff" fill-opacity="0.65"/>
<circle cx="1071.4" cy="134.9" r="18.60" fill="none" stroke="#221a5c" stroke-opacity="0.29" stroke-width="2.8"/><circle cx="1071.4" cy="134.9" r="18.60" fill="none" stroke="#3a2a92" stroke-opacity="0.38" stroke-width="1.5"/><circle cx="1071.4" cy="134.9" r="16.15" fill="none" stroke="#fff" stroke-opacity="0.53" stroke-width="2.2"/><circle cx="1071.4" cy="134.9" r="13.70" fill="none" stroke="#221a5c" stroke-opacity="0.44" stroke-width="2.8"/><circle cx="1071.4" cy="134.9" r="13.70" fill="none" stroke="#3a2a92" stroke-opacity="0.59" stroke-width="1.5"/><circle cx="1071.4" cy="134.9" r="11.25" fill="none" stroke="#fff" stroke-opacity="0.72" stroke-width="2.2"/><circle cx="1071.4" cy="134.9" r="8.80" fill="none" stroke="#221a5c" stroke-opacity="0.59" stroke-width="2.8"/><circle cx="1071.4" cy="134.9" r="8.80" fill="none" stroke="#3a2a92" stroke-opacity="0.79" stroke-width="1.5"/><circle cx="1071.4" cy="134.9" r="6.35" fill="none" stroke="#fff" stroke-opacity="0.90" stroke-width="2.2"/><circle cx="1071.4" cy="134.9" r="3.90" fill="none" stroke="#221a5c" stroke-opacity="0.75" stroke-width="2.8"/><circle cx="1071.4" cy="134.9" r="3.90" fill="none" stroke="#3a2a92" stroke-opacity="1.00" stroke-width="1.5"/><circle cx="1071.4" cy="134.9" r="2.3" fill="#fff" fill-opacity="0.65"/>
<circle cx="1032.4" cy="271.2" r="18.60" fill="none" stroke="#8c1828" stroke-opacity="0.29" stroke-width="2.8"/><circle cx="1032.4" cy="271.2" r="18.60" fill="none" stroke="#d81030" stroke-opacity="0.38" stroke-width="1.5"/><circle cx="1032.4" cy="271.2" r="16.15" fill="none" stroke="#fff" stroke-opacity="0.53" stroke-width="2.2"/><circle cx="1032.4" cy="271.2" r="13.70" fill="none" stroke="#8c1828" stroke-opacity="0.44" stroke-width="2.8"/><circle cx="1032.4" cy="271.2" r="13.70" fill="none" stroke="#d81030" stroke-opacity="0.59" stroke-width="1.5"/><circle cx="1032.4" cy="271.2" r="11.25" fill="none" stroke="#fff" stroke-opacity="0.72" stroke-width="2.2"/><circle cx="1032.4" cy="271.2" r="8.80" fill="none" stroke="#8c1828" stroke-opacity="0.59" stroke-width="2.8"/><circle cx="1032.4" cy="271.2" r="8.80" fill="none" stroke="#d81030" stroke-opacity="0.79" stroke-width="1.5"/><circle cx="1032.4" cy="271.2" r="6.35" fill="none" stroke="#fff" stroke-opacity="0.90" stroke-width="2.2"/><circle cx="1032.4" cy="271.2" r="3.90" fill="none" stroke="#8c1828" stroke-opacity="0.75" stroke-width="2.8"/><circle cx="1032.4" cy="271.2" r="3.90" fill="none" stroke="#d81030" stroke-opacity="1.00" stroke-width="1.5"/><circle cx="1032.4" cy="271.2" r="2.3" fill="#fff" fill-opacity="0.65"/>
<circle cx="966.3" cy="328.9" r="18.60" fill="none" stroke="#221a5c" stroke-opacity="0.29" stroke-width="2.8"/><circle cx="966.3" cy="328.9" r="18.60" fill="none" stroke="#3a2a92" stroke-opacity="0.38" stroke-width="1.5"/><circle cx="966.3" cy="328.9" r="16.15" fill="none" stroke="#fff" stroke-opacity="0.53" stroke-width="2.2"/><circle cx="966.3" cy="328.9" r="13.70" fill="none" stroke="#221a5c" stroke-opacity="0.44" stroke-width="2.8"/><circle cx="966.3" cy="328.9" r="13.70" fill="none" stroke="#3a2a92" stroke-opacity="0.59" stroke-width="1.5"/><circle cx="966.3" cy="328.9" r="11.25" fill="none" stroke="#fff" stroke-opacity="0.72" stroke-width="2.2"/><circle cx="966.3" cy="328.9" r="8.80" fill="none" stroke="#221a5c" stroke-opacity="0.59" stroke-width="2.8"/><circle cx="966.3" cy="328.9" r="8.80" fill="none" stroke="#3a2a92" stroke-opacity="0.79" stroke-width="1.5"/><circle cx="966.3" cy="328.9" r="6.35" fill="none" stroke="#fff" stroke-opacity="0.90" stroke-width="2.2"/><circle cx="966.3" cy="328.9" r="3.90" fill="none" stroke="#221a5c" stroke-opacity="0.75" stroke-width="2.8"/><circle cx="966.3" cy="328.9" r="3.90" fill="none" stroke="#3a2a92" stroke-opacity="1.00" stroke-width="1.5"/><circle cx="966.3" cy="328.9" r="2.3" fill="#fff" fill-opacity="0.65"/>
<circle cx="1096.2" cy="338.8" r="18.60" fill="none" stroke="#12126e" stroke-opacity="0.29" stroke-width="2.8"/><circle cx="1096.2" cy="338.8" r="18.60" fill="none" stroke="#1c1cd4" stroke-opacity="0.38" stroke-width="1.5"/><circle cx="1096.2" cy="338.8" r="16.15" fill="none" stroke="#fff" stroke-opacity="0.53" stroke-width="2.2"/><circle cx="1096.2" cy="338.8" r="13.70" fill="none" stroke="#12126e" stroke-opacity="0.44" stroke-width="2.8"/><circle cx="1096.2" cy="338.8" r="13.70" fill="none" stroke="#1c1cd4" stroke-opacity="0.59" stroke-width="1.5"/><circle cx="1096.2" cy="338.8" r="11.25" fill="none" stroke="#fff" stroke-opacity="0.72" stroke-width="2.2"/><circle cx="1096.2" cy="338.8" r="8.80" fill="none" stroke="#12126e" stroke-opacity="0.59" stroke-width="2.8"/><circle cx="1096.2" cy="338.8" r="8.80" fill="none" stroke="#1c1cd4" stroke-opacity="0.79" stroke-width="1.5"/><circle cx="1096.2" cy="338.8" r="6.35" fill="none" stroke="#fff" stroke-opacity="0.90" stroke-width="2.2"/><circle cx="1096.2" cy="338.8" r="3.90" fill="none" stroke="#12126e" stroke-opacity="0.75" stroke-width="2.8"/><circle cx="1096.2" cy="338.8" r="3.90" fill="none" stroke="#1c1cd4" stroke-opacity="1.00" stroke-width="1.5"/><circle cx="1096.2" cy="338.8" r="2.3" fill="#fff" fill-opacity="0.65"/>
<circle cx="1063.6" cy="354.4" r="18.60" fill="none" stroke="#12126e" stroke-opacity="0.29" stroke-width="2.8"/><circle cx="1063.6" cy="354.4" r="18.60" fill="none" stroke="#1c1cd4" stroke-opacity="0.38" stroke-width="1.5"/><circle cx="1063.6" cy="354.4" r="16.15" fill="none" stroke="#fff" stroke-opacity="0.53" stroke-width="2.2"/><circle cx="1063.6" cy="354.4" r="13.70" fill="none" stroke="#12126e" stroke-opacity="0.44" stroke-width="2.8"/><circle cx="1063.6" cy="354.4" r="13.70" fill="none" stroke="#1c1cd4" stroke-opacity="0.59" stroke-width="1.5"/><circle cx="1063.6" cy="354.4" r="11.25" fill="none" stroke="#fff" stroke-opacity="0.72" stroke-width="2.2"/><circle cx="1063.6" cy="354.4" r="8.80" fill="none" stroke="#12126e" stroke-opacity="0.59" stroke-width="2.8"/><circle cx="1063.6" cy="354.4" r="8.80" fill="none" stroke="#1c1cd4" stroke-opacity="0.79" stroke-width="1.5"/><circle cx="1063.6" cy="354.4" r="6.35" fill="none" stroke="#fff" stroke-opacity="0.90" stroke-width="2.2"/><circle cx="1063.6" cy="354.4" r="3.90" fill="none" stroke="#12126e" stroke-opacity="0.75" stroke-width="2.8"/><circle cx="1063.6" cy="354.4" r="3.90" fill="none" stroke="#1c1cd4" stroke-opacity="1.00" stroke-width="1.5"/><circle cx="1063.6" cy="354.4" r="2.3" fill="#fff" fill-opacity="0.65"/>
<circle cx="221.3" cy="212.0" r="18.60" fill="none" stroke="#8c1828" stroke-opacity="0.29" stroke-width="2.8"/><circle cx="221.3" cy="212.0" r="18.60" fill="none" stroke="#d81030" stroke-opacity="0.38" stroke-width="1.5"/><circle cx="221.3" cy="212.0" r="16.15" fill="none" stroke="#fff" stroke-opacity="0.53" stroke-width="2.2"/><circle cx="221.3" cy="212.0" r="13.70" fill="none" stroke="#8c1828" stroke-opacity="0.44" stroke-width="2.8"/><circle cx="221.3" cy="212.0" r="13.70" fill="none" stroke="#d81030" stroke-opacity="0.59" stroke-width="1.5"/><circle cx="221.3" cy="212.0" r="11.25" fill="none" stroke="#fff" stroke-opacity="0.72" stroke-width="2.2"/><circle cx="221.3" cy="212.0" r="8.80" fill="none" stroke="#8c1828" stroke-opacity="0.59" stroke-width="2.8"/><circle cx="221.3" cy="212.0" r="8.80" fill="none" stroke="#d81030" stroke-opacity="0.79" stroke-width="1.5"/><circle cx="221.3" cy="212.0" r="6.35" fill="none" stroke="#fff" stroke-opacity="0.90" stroke-width="2.2"/><circle cx="221.3" cy="212.0" r="3.90" fill="none" stroke="#8c1828" stroke-opacity="0.75" stroke-width="2.8"/><circle cx="221.3" cy="212.0" r="3.90" fill="none" stroke="#d81030" stroke-opacity="1.00" stroke-width="1.5"/><circle cx="221.3" cy="212.0" r="2.3" fill="#fff" fill-opacity="0.65"/>
<circle cx="229.3" cy="249.3" r="18.60" fill="none" stroke="#8c1828" stroke-opacity="0.29" stroke-width="2.8"/><circle cx="229.3" cy="249.3" r="18.60" fill="none" stroke="#d81030" stroke-opacity="0.38" stroke-width="1.5"/><circle cx="229.3" cy="249.3" r="16.15" fill="none" stroke="#fff" stroke-opacity="0.53" stroke-width="2.2"/><circle cx="229.3" cy="249.3" r="13.70" fill="none" stroke="#8c1828" stroke-opacity="0.44" stroke-width="2.8"/><circle cx="229.3" cy="249.3" r="13.70" fill="none" stroke="#d81030" stroke-opacity="0.59" stroke-width="1.5"/><circle cx="229.3" cy="249.3" r="11.25" fill="none" stroke="#fff" stroke-opacity="0.72" stroke-width="2.2"/><circle cx="229.3" cy="249.3" r="8.80" fill="none" stroke="#8c1828" stroke-opacity="0.59" stroke-width="2.8"/><circle cx="229.3" cy="249.3" r="8.80" fill="none" stroke="#d81030" stroke-opacity="0.79" stroke-width="1.5"/><circle cx="229.3" cy="249.3" r="6.35" fill="none" stroke="#fff" stroke-opacity="0.90" stroke-width="2.2"/><circle cx="229.3" cy="249.3" r="3.90" fill="none" stroke="#8c1828" stroke-opacity="0.75" stroke-width="2.8"/><circle cx="229.3" cy="249.3" r="3.90" fill="none" stroke="#d81030" stroke-opacity="1.00" stroke-width="1.5"/><circle cx="229.3" cy="249.3" r="2.3" fill="#fff" fill-opacity="0.65"/>
<circle cx="273.0" cy="263.2" r="18.60" fill="none" stroke="#8c1828" stroke-opacity="0.29" stroke-width="2.8"/><circle cx="273.0" cy="263.2" r="18.60" fill="none" stroke="#d81030" stroke-opacity="0.38" stroke-width="1.5"/><circle cx="273.0" cy="263.2" r="16.15" fill="none" stroke="#fff" stroke-opacity="0.53" stroke-width="2.2"/><circle cx="273.0" cy="263.2" r="13.70" fill="none" stroke="#8c1828" stroke-opacity="0.44" stroke-width="2.8"/><circle cx="273.0" cy="263.2" r="13.70" fill="none" stroke="#d81030" stroke-opacity="0.59" stroke-width="1.5"/><circle cx="273.0" cy="263.2" r="11.25" fill="none" stroke="#fff" stroke-opacity="0.72" stroke-width="2.2"/><circle cx="273.0" cy="263.2" r="8.80" fill="none" stroke="#8c1828" stroke-opacity="0.59" stroke-width="2.8"/><circle cx="273.0" cy="263.2" r="8.80" fill="none" stroke="#d81030" stroke-opacity="0.79" stroke-width="1.5"/><circle cx="273.0" cy="263.2" r="6.35" fill="none" stroke="#fff" stroke-opacity="0.90" stroke-width="2.2"/><circle cx="273.0" cy="263.2" r="3.90" fill="none" stroke="#8c1828" stroke-opacity="0.75" stroke-width="2.8"/><circle cx="273.0" cy="263.2" r="3.90" fill="none" stroke="#d81030" stroke-opacity="1.00" stroke-width="1.5"/><circle cx="273.0" cy="263.2" r="2.3" fill="#fff" fill-opacity="0.65"/>
<circle cx="284.9" cy="258.4" r="18.60" fill="none" stroke="#1a5e1e" stroke-opacity="0.29" stroke-width="2.8"/><circle cx="284.9" cy="258.4" r="18.60" fill="none" stroke="#22a428" stroke-opacity="0.38" stroke-width="1.5"/><circle cx="284.9" cy="258.4" r="16.15" fill="none" stroke="#fff" stroke-opacity="0.53" stroke-width="2.2"/><circle cx="284.9" cy="258.4" r="13.70" fill="none" stroke="#1a5e1e" stroke-opacity="0.44" stroke-width="2.8"/><circle cx="284.9" cy="258.4" r="13.70" fill="none" stroke="#22a428" stroke-opacity="0.59" stroke-width="1.5"/><circle cx="284.9" cy="258.4" r="11.25" fill="none" stroke="#fff" stroke-opacity="0.72" stroke-width="2.2"/><circle cx="284.9" cy="258.4" r="8.80" fill="none" stroke="#1a5e1e" stroke-opacity="0.59" stroke-width="2.8"/><circle cx="284.9" cy="258.4" r="8.80" fill="none" stroke="#22a428" stroke-opacity="0.79" stroke-width="1.5"/><circle cx="284.9" cy="258.4" r="6.35" fill="none" stroke="#fff" stroke-opacity="0.90" stroke-width="2.2"/><circle cx="284.9" cy="258.4" r="3.90" fill="none" stroke="#1a5e1e" stroke-opacity="0.75" stroke-width="2.8"/><circle cx="284.9" cy="258.4" r="3.90" fill="none" stroke="#22a428" stroke-opacity="1.00" stroke-width="1.5"/><circle cx="284.9" cy="258.4" r="2.3" fill="#fff" fill-opacity="0.65"/>
<circle cx="359.3" cy="276.3" r="18.60" fill="none" stroke="#8c1828" stroke-opacity="0.29" stroke-width="2.8"/><circle cx="359.3" cy="276.3" r="18.60" fill="none" stroke="#d81030" stroke-opacity="0.38" stroke-width="1.5"/><circle cx="359.3" cy="276.3" r="16.15" fill="none" stroke="#fff" stroke-opacity="0.53" stroke-width="2.2"/><circle cx="359.3" cy="276.3" r="13.70" fill="none" stroke="#8c1828" stroke-opacity="0.44" stroke-width="2.8"/><circle cx="359.3" cy="276.3" r="13.70" fill="none" stroke="#d81030" stroke-opacity="0.59" stroke-width="1.5"/><circle cx="359.3" cy="276.3" r="11.25" fill="none" stroke="#fff" stroke-opacity="0.72" stroke-width="2.2"/><circle cx="359.3" cy="276.3" r="8.80" fill="none" stroke="#8c1828" stroke-opacity="0.59" stroke-width="2.8"/><circle cx="359.3" cy="276.3" r="8.80" fill="none" stroke="#d81030" stroke-opacity="0.79" stroke-width="1.5"/><circle cx="359.3" cy="276.3" r="6.35" fill="none" stroke="#fff" stroke-opacity="0.90" stroke-width="2.2"/><circle cx="359.3" cy="276.3" r="3.90" fill="none" stroke="#8c1828" stroke-opacity="0.75" stroke-width="2.8"/><circle cx="359.3" cy="276.3" r="3.90" fill="none" stroke="#d81030" stroke-opacity="1.00" stroke-width="1.5"/><circle cx="359.3" cy="276.3" r="2.3" fill="#fff" fill-opacity="0.65"/>
<circle cx="310.5" cy="299.4" r="18.60" fill="none" stroke="#86862a" stroke-opacity="0.29" stroke-width="2.8"/><circle cx="310.5" cy="299.4" r="18.60" fill="none" stroke="#bcbc3c" stroke-opacity="0.38" stroke-width="1.5"/><circle cx="310.5" cy="299.4" r="16.15" fill="none" stroke="#fff" stroke-opacity="0.53" stroke-width="2.2"/><circle cx="310.5" cy="299.4" r="13.70" fill="none" stroke="#86862a" stroke-opacity="0.44" stroke-width="2.8"/><circle cx="310.5" cy="299.4" r="13.70" fill="none" stroke="#bcbc3c" stroke-opacity="0.59" stroke-width="1.5"/><circle cx="310.5" cy="299.4" r="11.25" fill="none" stroke="#fff" stroke-opacity="0.72" stroke-width="2.2"/><circle cx="310.5" cy="299.4" r="8.80" fill="none" stroke="#86862a" stroke-opacity="0.59" stroke-width="2.8"/><circle cx="310.5" cy="299.4" r="8.80" fill="none" stroke="#bcbc3c" stroke-opacity="0.79" stroke-width="1.5"/><circle cx="310.5" cy="299.4" r="6.35" fill="none" stroke="#fff" stroke-opacity="0.90" stroke-width="2.2"/><circle cx="310.5" cy="299.4" r="3.90" fill="none" stroke="#86862a" stroke-opacity="0.75" stroke-width="2.8"/><circle cx="310.5" cy="299.4" r="3.90" fill="none" stroke="#bcbc3c" stroke-opacity="1.00" stroke-width="1.5"/><circle cx="310.5" cy="299.4" r="2.3" fill="#fff" fill-opacity="0.65"/>
<circle cx="707.7" cy="335.2" r="18.60" fill="none" stroke="#8c1828" stroke-opacity="0.29" stroke-width="2.8"/><circle cx="707.7" cy="335.2" r="18.60" fill="none" stroke="#d81030" stroke-opacity="0.38" stroke-width="1.5"/><circle cx="707.7" cy="335.2" r="16.15" fill="none" stroke="#fff" stroke-opacity="0.53" stroke-width="2.2"/><circle cx="707.7" cy="335.2" r="13.70" fill="none" stroke="#8c1828" stroke-opacity="0.44" stroke-width="2.8"/><circle cx="707.7" cy="335.2" r="13.70" fill="none" stroke="#d81030" stroke-opacity="0.59" stroke-width="1.5"/><circle cx="707.7" cy="335.2" r="11.25" fill="none" stroke="#fff" stroke-opacity="0.72" stroke-width="2.2"/><circle cx="707.7" cy="335.2" r="8.80" fill="none" stroke="#8c1828" stroke-opacity="0.59" stroke-width="2.8"/><circle cx="707.7" cy="335.2" r="8.80" fill="none" stroke="#d81030" stroke-opacity="0.79" stroke-width="1.5"/><circle cx="707.7" cy="335.2" r="6.35" fill="none" stroke="#fff" stroke-opacity="0.90" stroke-width="2.2"/><circle cx="707.7" cy="335.2" r="3.90" fill="none" stroke="#8c1828" stroke-opacity="0.75" stroke-width="2.8"/><circle cx="707.7" cy="335.2" r="3.90" fill="none" stroke="#d81030" stroke-opacity="1.00" stroke-width="1.5"/><circle cx="707.7" cy="335.2" r="2.3" fill="#fff" fill-opacity="0.65"/>
<circle cx="667.3" cy="444.2" r="18.60" fill="none" stroke="#8c1828" stroke-opacity="0.29" stroke-width="2.8"/><circle cx="667.3" cy="444.2" r="18.60" fill="none" stroke="#d81030" stroke-opacity="0.38" stroke-width="1.5"/><circle cx="667.3" cy="444.2" r="16.15" fill="none" stroke="#fff" stroke-opacity="0.53" stroke-width="2.2"/><circle cx="667.3" cy="444.2" r="13.70" fill="none" stroke="#8c1828" stroke-opacity="0.44" stroke-width="2.8"/><circle cx="667.3" cy="444.2" r="13.70" fill="none" stroke="#d81030" stroke-opacity="0.59" stroke-width="1.5"/><circle cx="667.3" cy="444.2" r="11.25" fill="none" stroke="#fff" stroke-opacity="0.72" stroke-width="2.2"/><circle cx="667.3" cy="444.2" r="8.80" fill="none" stroke="#8c1828" stroke-opacity="0.59" stroke-width="2.8"/><circle cx="667.3" cy="444.2" r="8.80" fill="none" stroke="#d81030" stroke-opacity="0.79" stroke-width="1.5"/><circle cx="667.3" cy="444.2" r="6.35" fill="none" stroke="#fff" stroke-opacity="0.90" stroke-width="2.2"/><circle cx="667.3" cy="444.2" r="3.90" fill="none" stroke="#8c1828" stroke-opacity="0.75" stroke-width="2.8"/><circle cx="667.3" cy="444.2" r="3.90" fill="none" stroke="#d81030" stroke-opacity="1.00" stroke-width="1.5"/><circle cx="667.3" cy="444.2" r="2.3" fill="#fff" fill-opacity="0.65"/>
<circle cx="1229.3" cy="423.1" r="18.60" fill="none" stroke="#221a5c" stroke-opacity="0.29" stroke-width="2.8"/><circle cx="1229.3" cy="423.1" r="18.60" fill="none" stroke="#3a2a92" stroke-opacity="0.38" stroke-width="1.5"/><circle cx="1229.3" cy="423.1" r="16.15" fill="none" stroke="#fff" stroke-opacity="0.53" stroke-width="2.2"/><circle cx="1229.3" cy="423.1" r="13.70" fill="none" stroke="#221a5c" stroke-opacity="0.44" stroke-width="2.8"/><circle cx="1229.3" cy="423.1" r="13.70" fill="none" stroke="#3a2a92" stroke-opacity="0.59" stroke-width="1.5"/><circle cx="1229.3" cy="423.1" r="11.25" fill="none" stroke="#fff" stroke-opacity="0.72" stroke-width="2.2"/><circle cx="1229.3" cy="423.1" r="8.80" fill="none" stroke="#221a5c" stroke-opacity="0.59" stroke-width="2.8"/><circle cx="1229.3" cy="423.1" r="8.80" fill="none" stroke="#3a2a92" stroke-opacity="0.79" stroke-width="1.5"/><circle cx="1229.3" cy="423.1" r="6.35" fill="none" stroke="#fff" stroke-opacity="0.90" stroke-width="2.2"/><circle cx="1229.3" cy="423.1" r="3.90" fill="none" stroke="#221a5c" stroke-opacity="0.75" stroke-width="2.8"/><circle cx="1229.3" cy="423.1" r="3.90" fill="none" stroke="#3a2a92" stroke-opacity="1.00" stroke-width="1.5"/><circle cx="1229.3" cy="423.1" r="2.3" fill="#fff" fill-opacity="0.65"/>
<circle cx="1219.5" cy="439.1" r="18.60" fill="none" stroke="#221a5c" stroke-opacity="0.29" stroke-width="2.8"/><circle cx="1219.5" cy="439.1" r="18.60" fill="none" stroke="#3a2a92" stroke-opacity="0.38" stroke-width="1.5"/><circle cx="1219.5" cy="439.1" r="16.15" fill="none" stroke="#fff" stroke-opacity="0.53" stroke-width="2.2"/><circle cx="1219.5" cy="439.1" r="13.70" fill="none" stroke="#221a5c" stroke-opacity="0.44" stroke-width="2.8"/><circle cx="1219.5" cy="439.1" r="13.70" fill="none" stroke="#3a2a92" stroke-opacity="0.59" stroke-width="1.5"/><circle cx="1219.5" cy="439.1" r="11.25" fill="none" stroke="#fff" stroke-opacity="0.72" stroke-width="2.2"/><circle cx="1219.5" cy="439.1" r="8.80" fill="none" stroke="#221a5c" stroke-opacity="0.59" stroke-width="2.8"/><circle cx="1219.5" cy="439.1" r="8.80" fill="none" stroke="#3a2a92" stroke-opacity="0.79" stroke-width="1.5"/><circle cx="1219.5" cy="439.1" r="6.35" fill="none" stroke="#fff" stroke-opacity="0.90" stroke-width="2.2"/><circle cx="1219.5" cy="439.1" r="3.90" fill="none" stroke="#221a5c" stroke-opacity="0.75" stroke-width="2.8"/><circle cx="1219.5" cy="439.1" r="3.90" fill="none" stroke="#3a2a92" stroke-opacity="1.00" stroke-width="1.5"/><circle cx="1219.5" cy="439.1" r="2.3" fill="#fff" fill-opacity="0.65"/>
<circle cx="1187.4" cy="476.0" r="18.60" fill="none" stroke="#221a5c" stroke-opacity="0.29" stroke-width="2.8"/><circle cx="1187.4" cy="476.0" r="18.60" fill="none" stroke="#3a2a92" stroke-opacity="0.38" stroke-width="1.5"/><circle cx="1187.4" cy="476.0" r="16.15" fill="none" stroke="#fff" stroke-opacity="0.53" stroke-width="2.2"/><circle cx="1187.4" cy="476.0" r="13.70" fill="none" stroke="#221a5c" stroke-opacity="0.44" stroke-width="2.8"/><circle cx="1187.4" cy="476.0" r="13.70" fill="none" stroke="#3a2a92" stroke-opacity="0.59" stroke-width="1.5"/><circle cx="1187.4" cy="476.0" r="11.25" fill="none" stroke="#fff" stroke-opacity="0.72" stroke-width="2.2"/><circle cx="1187.4" cy="476.0" r="8.80" fill="none" stroke="#221a5c" stroke-opacity="0.59" stroke-width="2.8"/><circle cx="1187.4" cy="476.0" r="8.80" fill="none" stroke="#3a2a92" stroke-opacity="0.79" stroke-width="1.5"/><circle cx="1187.4" cy="476.0" r="6.35" fill="none" stroke="#fff" stroke-opacity="0.90" stroke-width="2.2"/><circle cx="1187.4" cy="476.0" r="3.90" fill="none" stroke="#221a5c" stroke-opacity="0.75" stroke-width="2.8"/><circle cx="1187.4" cy="476.0" r="3.90" fill="none" stroke="#3a2a92" stroke-opacity="1.00" stroke-width="1.5"/><circle cx="1187.4" cy="476.0" r="2.3" fill="#fff" fill-opacity="0.65"/>
<circle cx="1067.1" cy="336.4" r="18.60" fill="none" stroke="#8c1828" stroke-opacity="0.29" stroke-width="2.8"/><circle cx="1067.1" cy="336.4" r="18.60" fill="none" stroke="#d81030" stroke-opacity="0.38" stroke-width="1.5"/><circle cx="1067.1" cy="336.4" r="16.15" fill="none" stroke="#fff" stroke-opacity="0.53" stroke-width="2.2"/><circle cx="1067.1" cy="336.4" r="13.70" fill="none" stroke="#8c1828" stroke-opacity="0.44" stroke-width="2.8"/><circle cx="1067.1" cy="336.4" r="13.70" fill="none" stroke="#d81030" stroke-opacity="0.59" stroke-width="1.5"/><circle cx="1067.1" cy="336.4" r="11.25" fill="none" stroke="#fff" stroke-opacity="0.72" stroke-width="2.2"/><circle cx="1067.1" cy="336.4" r="8.80" fill="none" stroke="#8c1828" stroke-opacity="0.59" stroke-width="2.8"/><circle cx="1067.1" cy="336.4" r="8.80" fill="none" stroke="#d81030" stroke-opacity="0.79" stroke-width="1.5"/><circle cx="1067.1" cy="336.4" r="6.35" fill="none" stroke="#fff" stroke-opacity="0.90" stroke-width="2.2"/><circle cx="1067.1" cy="336.4" r="3.90" fill="none" stroke="#8c1828" stroke-opacity="0.75" stroke-width="2.8"/><circle cx="1067.1" cy="336.4" r="3.90" fill="none" stroke="#d81030" stroke-opacity="1.00" stroke-width="1.5"/><circle cx="1067.1" cy="336.4" r="2.3" fill="#fff" fill-opacity="0.65"/>
<circle cx="946.2" cy="201.3" r="13.70" fill="none" stroke="#8c1828" stroke-opacity="0.29" stroke-width="2.8"/><circle cx="946.2" cy="201.3" r="13.70" fill="none" stroke="#d81030" stroke-opacity="0.38" stroke-width="1.5"/><circle cx="946.2" cy="201.3" r="11.25" fill="none" stroke="#fff" stroke-opacity="0.62" stroke-width="2.2"/><circle cx="946.2" cy="201.3" r="8.80" fill="none" stroke="#8c1828" stroke-opacity="0.52" stroke-width="2.8"/><circle cx="946.2" cy="201.3" r="8.80" fill="none" stroke="#d81030" stroke-opacity="0.69" stroke-width="1.5"/><circle cx="946.2" cy="201.3" r="6.35" fill="none" stroke="#fff" stroke-opacity="0.90" stroke-width="2.2"/><circle cx="946.2" cy="201.3" r="3.90" fill="none" stroke="#8c1828" stroke-opacity="0.75" stroke-width="2.8"/><circle cx="946.2" cy="201.3" r="3.90" fill="none" stroke="#d81030" stroke-opacity="1.00" stroke-width="1.5"/><circle cx="946.2" cy="201.3" r="2.3" fill="#fff" fill-opacity="0.65"/>
<circle cx="934.4" cy="232.2" r="13.70" fill="none" stroke="#1a5e1e" stroke-opacity="0.29" stroke-width="2.8"/><circle cx="934.4" cy="232.2" r="13.70" fill="none" stroke="#22a428" stroke-opacity="0.38" stroke-width="1.5"/><circle cx="934.4" cy="232.2" r="11.25" fill="none" stroke="#fff" stroke-opacity="0.62" stroke-width="2.2"/><circle cx="934.4" cy="232.2" r="8.80" fill="none" stroke="#1a5e1e" stroke-opacity="0.52" stroke-width="2.8"/><circle cx="934.4" cy="232.2" r="8.80" fill="none" stroke="#22a428" stroke-opacity="0.69" stroke-width="1.5"/><circle cx="934.4" cy="232.2" r="6.35" fill="none" stroke="#fff" stroke-opacity="0.90" stroke-width="2.2"/><circle cx="934.4" cy="232.2" r="3.90" fill="none" stroke="#1a5e1e" stroke-opacity="0.75" stroke-width="2.8"/><circle cx="934.4" cy="232.2" r="3.90" fill="none" stroke="#22a428" stroke-opacity="1.00" stroke-width="1.5"/><circle cx="934.4" cy="232.2" r="2.3" fill="#fff" fill-opacity="0.65"/>
<circle cx="1053.3" cy="310.2" r="13.70" fill="none" stroke="#86862a" stroke-opacity="0.29" stroke-width="2.8"/><circle cx="1053.3" cy="310.2" r="13.70" fill="none" stroke="#bcbc3c" stroke-opacity="0.38" stroke-width="1.5"/><circle cx="1053.3" cy="310.2" r="11.25" fill="none" stroke="#fff" stroke-opacity="0.62" stroke-width="2.2"/><circle cx="1053.3" cy="310.2" r="8.80" fill="none" stroke="#86862a" stroke-opacity="0.52" stroke-width="2.8"/><circle cx="1053.3" cy="310.2" r="8.80" fill="none" stroke="#bcbc3c" stroke-opacity="0.69" stroke-width="1.5"/><circle cx="1053.3" cy="310.2" r="6.35" fill="none" stroke="#fff" stroke-opacity="0.90" stroke-width="2.2"/><circle cx="1053.3" cy="310.2" r="3.90" fill="none" stroke="#86862a" stroke-opacity="0.75" stroke-width="2.8"/><circle cx="1053.3" cy="310.2" r="3.90" fill="none" stroke="#bcbc3c" stroke-opacity="1.00" stroke-width="1.5"/><circle cx="1053.3" cy="310.2" r="2.3" fill="#fff" fill-opacity="0.65"/>
<circle cx="1042.9" cy="356.5" r="13.70" fill="none" stroke="#12126e" stroke-opacity="0.29" stroke-width="2.8"/><circle cx="1042.9" cy="356.5" r="13.70" fill="none" stroke="#1c1cd4" stroke-opacity="0.38" stroke-width="1.5"/><circle cx="1042.9" cy="356.5" r="11.25" fill="none" stroke="#fff" stroke-opacity="0.62" stroke-width="2.2"/><circle cx="1042.9" cy="356.5" r="8.80" fill="none" stroke="#12126e" stroke-opacity="0.52" stroke-width="2.8"/><circle cx="1042.9" cy="356.5" r="8.80" fill="none" stroke="#1c1cd4" stroke-opacity="0.69" stroke-width="1.5"/><circle cx="1042.9" cy="356.5" r="6.35" fill="none" stroke="#fff" stroke-opacity="0.90" stroke-width="2.2"/><circle cx="1042.9" cy="356.5" r="3.90" fill="none" stroke="#12126e" stroke-opacity="0.75" stroke-width="2.8"/><circle cx="1042.9" cy="356.5" r="3.90" fill="none" stroke="#1c1cd4" stroke-opacity="1.00" stroke-width="1.5"/><circle cx="1042.9" cy="356.5" r="2.3" fill="#fff" fill-opacity="0.65"/>
<circle cx="253.1" cy="246.4" r="13.70" fill="none" stroke="#1a5e1e" stroke-opacity="0.29" stroke-width="2.8"/><circle cx="253.1" cy="246.4" r="13.70" fill="none" stroke="#22a428" stroke-opacity="0.38" stroke-width="1.5"/><circle cx="253.1" cy="246.4" r="11.25" fill="none" stroke="#fff" stroke-opacity="0.62" stroke-width="2.2"/><circle cx="253.1" cy="246.4" r="8.80" fill="none" stroke="#1a5e1e" stroke-opacity="0.52" stroke-width="2.8"/><circle cx="253.1" cy="246.4" r="8.80" fill="none" stroke="#22a428" stroke-opacity="0.69" stroke-width="1.5"/><circle cx="253.1" cy="246.4" r="6.35" fill="none" stroke="#fff" stroke-opacity="0.90" stroke-width="2.2"/><circle cx="253.1" cy="246.4" r="3.90" fill="none" stroke="#1a5e1e" stroke-opacity="0.75" stroke-width="2.8"/><circle cx="253.1" cy="246.4" r="3.90" fill="none" stroke="#22a428" stroke-opacity="1.00" stroke-width="1.5"/><circle cx="253.1" cy="246.4" r="2.3" fill="#fff" fill-opacity="0.65"/>
<circle cx="1242.4" cy="435.4" r="13.70" fill="none" stroke="#1a5e1e" stroke-opacity="0.29" stroke-width="2.8"/><circle cx="1242.4" cy="435.4" r="13.70" fill="none" stroke="#22a428" stroke-opacity="0.38" stroke-width="1.5"/><circle cx="1242.4" cy="435.4" r="11.25" fill="none" stroke="#fff" stroke-opacity="0.62" stroke-width="2.2"/><circle cx="1242.4" cy="435.4" r="8.80" fill="none" stroke="#1a5e1e" stroke-opacity="0.52" stroke-width="2.8"/><circle cx="1242.4" cy="435.4" r="8.80" fill="none" stroke="#22a428" stroke-opacity="0.69" stroke-width="1.5"/><circle cx="1242.4" cy="435.4" r="6.35" fill="none" stroke="#fff" stroke-opacity="0.90" stroke-width="2.2"/><circle cx="1242.4" cy="435.4" r="3.90" fill="none" stroke="#1a5e1e" stroke-opacity="0.75" stroke-width="2.8"/><circle cx="1242.4" cy="435.4" r="3.90" fill="none" stroke="#22a428" stroke-opacity="1.00" stroke-width="1.5"/><circle cx="1242.4" cy="435.4" r="2.3" fill="#fff" fill-opacity="0.65"/>
</g>
<g class="lbl">
<text x="238.8" y="108.0" textLength="41.9" lengthAdjust="spacingAndGlyphs">M5.7</text><text x="291.7" y="108.0" textLength="41.1" lengthAdjust="spacingAndGlyphs">8Dec</text><text x="336.8" y="108.0" textLength="46.0" lengthAdjust="spacingAndGlyphs">00:56</text>
<text x="677.2" y="136.9" textLength="41.9" lengthAdjust="spacingAndGlyphs">M4.4</text><text x="730.1" y="136.9" textLength="41.1" lengthAdjust="spacingAndGlyphs">8Dec</text><text x="775.2" y="136.9" textLength="46.0" lengthAdjust="spacingAndGlyphs">05:31</text>
<text x="731.2" y="197.8" textLength="41.9" lengthAdjust="spacingAndGlyphs">M5.1</text><text x="784.1" y="197.8" textLength="41.1" lengthAdjust="spacingAndGlyphs">8Dec</text><text x="829.2" y="197.8" textLength="46.0" lengthAdjust="spacingAndGlyphs">10:21</text>
<text x="856.5" y="181.8" textLength="41.9" lengthAdjust="spacingAndGlyphs">M4.3</text><text x="909.4" y="181.8" textLength="41.1" lengthAdjust="spacingAndGlyphs">8Dec</text><text x="954.5" y="181.8" textLength="46.0" lengthAdjust="spacingAndGlyphs">14:15</text>
<text x="862.5" y="202.8" textLength="41.9" lengthAdjust="spacingAndGlyphs">M4.3</text><text x="915.4" y="202.8" textLength="41.1" lengthAdjust="spacingAndGlyphs">8Dec</text><text x="960.5" y="202.8" textLength="46.0" lengthAdjust="spacingAndGlyphs">09:41</text>
<text x="960.0" y="207.8" textLength="41.9" lengthAdjust="spacingAndGlyphs">M3.9</text><text x="1012.9" y="207.8" textLength="41.1" lengthAdjust="spacingAndGlyphs">8Dec</text><text x="1058.0" y="207.8" textLength="46.0" lengthAdjust="spacingAndGlyphs">18:38</text>
<text x="768.0" y="246.9" textLength="41.9" lengthAdjust="spacingAndGlyphs">M3.8</text><text x="820.9" y="246.9" textLength="41.1" lengthAdjust="spacingAndGlyphs">8Dec</text><text x="866.0" y="246.9" textLength="46.0" lengthAdjust="spacingAndGlyphs">04:48</text>
<text x="909.0" y="154.0" textLength="41.9" lengthAdjust="spacingAndGlyphs">M4.6</text><text x="961.9" y="154.0" textLength="41.1" lengthAdjust="spacingAndGlyphs">8Dec</text><text x="1007.0" y="154.0" textLength="46.0" lengthAdjust="spacingAndGlyphs">04:58</text>
<text x="1118.2" y="141.1" textLength="41.9" lengthAdjust="spacingAndGlyphs">M5.2</text><text x="1171.1" y="141.1" textLength="41.1" lengthAdjust="spacingAndGlyphs">8Dec</text><text x="1216.2" y="141.1" textLength="46.0" lengthAdjust="spacingAndGlyphs">01:32</text>
<text x="1101.0" y="190.3" textLength="41.9" lengthAdjust="spacingAndGlyphs">M7.6</text><text x="1153.9" y="190.3" textLength="41.1" lengthAdjust="spacingAndGlyphs">8Dec</text><text x="1199.0" y="190.3" textLength="46.0" lengthAdjust="spacingAndGlyphs">14:15</text>
<text x="1048.8" y="251.9" textLength="41.9" lengthAdjust="spacingAndGlyphs">M5.3</text><text x="1101.7" y="251.9" textLength="41.1" lengthAdjust="spacingAndGlyphs">8Dec</text><text x="1146.8" y="251.9" textLength="46.0" lengthAdjust="spacingAndGlyphs">11:24</text>
<text x="869.9" y="290.0" textLength="41.9" lengthAdjust="spacingAndGlyphs">M4.6</text><text x="922.8" y="290.0" textLength="41.1" lengthAdjust="spacingAndGlyphs">8Dec</text><text x="967.9" y="290.0" textLength="46.0" lengthAdjust="spacingAndGlyphs">11:59</text>
<text x="1117.0" y="303.1" textLength="41.9" lengthAdjust="spacingAndGlyphs">M5.0</text><text x="1169.9" y="303.1" textLength="41.1" lengthAdjust="spacingAndGlyphs">8Dec</text><text x="1215.0" y="303.1" textLength="46.0" lengthAdjust="spacingAndGlyphs">20:31</text>
<text x="983.7" y="331.6" textLength="41.9" lengthAdjust="spacingAndGlyphs">M4.3</text><text x="1036.6" y="331.6" textLength="41.1" lengthAdjust="spacingAndGlyphs">8Dec</text><text x="1081.7" y="331.6" textLength="46.0" lengthAdjust="spacingAndGlyphs">17:34</text>
<text x="904.9" y="354.5" textLength="41.9" lengthAdjust="spacingAndGlyphs">M4.0</text><text x="957.8" y="354.5" textLength="41.1" lengthAdjust="spacingAndGlyphs">8Dec</text><text x="1002.9" y="354.5" textLength="46.0" lengthAdjust="spacingAndGlyphs">05:19</text>
<text x="1113.9" y="351.6" textLength="41.9" lengthAdjust="spacingAndGlyphs">M4.0</text><text x="1166.8" y="351.6" textLength="41.1" lengthAdjust="spacingAndGlyphs">8Dec</text><text x="1211.9" y="351.6" textLength="46.0" lengthAdjust="spacingAndGlyphs">14:57</text>
<text x="1081.0" y="372.0" textLength="41.9" lengthAdjust="spacingAndGlyphs">M4.5</text><text x="1133.9" y="372.0" textLength="41.1" lengthAdjust="spacingAndGlyphs">8Dec</text><text x="1179.0" y="372.0" textLength="46.0" lengthAdjust="spacingAndGlyphs">20:39</text>
<text x="238.6" y="231.2" textLength="41.9" lengthAdjust="spacingAndGlyphs">M4.3</text><text x="291.5" y="231.2" textLength="41.1" lengthAdjust="spacingAndGlyphs">8Dec</text><text x="336.6" y="231.2" textLength="46.0" lengthAdjust="spacingAndGlyphs">11:28</text>
<text x="122.8" y="261.1" textLength="41.9" lengthAdjust="spacingAndGlyphs">M4.0</text><text x="175.7" y="261.1" textLength="41.1" lengthAdjust="spacingAndGlyphs">8Dec</text><text x="220.8" y="261.1" textLength="46.0" lengthAdjust="spacingAndGlyphs">06:06</text>
<text x="110.3" y="281.9" textLength="41.9" lengthAdjust="spacingAndGlyphs">M4.1</text><text x="163.2" y="281.9" textLength="41.1" lengthAdjust="spacingAndGlyphs">8Dec</text><text x="208.3" y="281.9" textLength="46.0" lengthAdjust="spacingAndGlyphs">06:43</text>
<text x="377.0" y="295.1" textLength="41.9" lengthAdjust="spacingAndGlyphs">M4.5</text><text x="429.9" y="295.1" textLength="41.1" lengthAdjust="spacingAndGlyphs">8Dec</text><text x="475.0" y="295.1" textLength="46.0" lengthAdjust="spacingAndGlyphs">02:27</text>
<text x="328.5" y="317.6" textLength="41.9" lengthAdjust="spacingAndGlyphs">M4.0</text><text x="381.4" y="317.6" textLength="41.1" lengthAdjust="spacingAndGlyphs">8Dec</text><text x="426.5" y="317.6" textLength="46.0" lengthAdjust="spacingAndGlyphs">04:24</text>
<text x="725.1" y="354.2" textLength="41.9" lengthAdjust="spacingAndGlyphs">M4.7</text><text x="778.0" y="354.2" textLength="41.1" lengthAdjust="spacingAndGlyphs">8Dec</text><text x="823.1" y="354.2" textLength="46.0" lengthAdjust="spacingAndGlyphs">12:19</text>
<text x="867.6" y="443.6" textLength="41.9" lengthAdjust="spacingAndGlyphs">M5.1</text><text x="920.5" y="443.6" textLength="41.1" lengthAdjust="spacingAndGlyphs">8Dec</text><text x="965.6" y="443.6" textLength="46.0" lengthAdjust="spacingAndGlyphs">13:18</text>
<text x="685.0" y="462.6" textLength="41.9" lengthAdjust="spacingAndGlyphs">M4.3</text><text x="737.9" y="462.6" textLength="41.1" lengthAdjust="spacingAndGlyphs">8Dec</text><text x="783.0" y="462.6" textLength="46.0" lengthAdjust="spacingAndGlyphs">15:14</text>
<text x="560.9" y="581.5" textLength="41.9" lengthAdjust="spacingAndGlyphs">M5.5</text><text x="613.8" y="581.5" textLength="41.1" lengthAdjust="spacingAndGlyphs">8Dec</text><text x="658.9" y="581.5" textLength="46.0" lengthAdjust="spacingAndGlyphs">18:41</text>
</g>
<text class="hd" x="8.8" y="28.9" font-size="28" textLength="230.3" lengthAdjust="spacingAndGlyphs">Earthquakes M3+</text>
<text class="hd" x="9.7" y="57.4" font-size="19.5" textLength="327.4" lengthAdjust="spacingAndGlyphs">updated:&#160; 9 Dec 2025 04:20 (UTC)</text>
<text class="hd" x="1121" y="34.6" font-size="27.4" textLength="141" lengthAdjust="spacingAndGlyphs">8 Dec 2025</text>
<text class="sm" x="9.6" y="587.9" font-size="10.6" fill="#000" textLength="238.2" lengthAdjust="spacing">Map base: Robinson projection of the world</text>
<text class="sm" x="9.6" y="618.5" font-size="10.6" fill="#888" textLength="199.8" lengthAdjust="spacing">generated in 0.18ms&#160; 9 Dec 2025 04:20</text>
<g id="legend">
<circle cx="1175.3" cy="620.2" r="7.7" fill="#fff" stroke="#d02020" stroke-width="2.4"/><circle cx="1175.3" cy="620.2" r="4" fill="#fff" stroke="#d02020" stroke-width="3"/><circle cx="1190.3" cy="620.2" r="7.7" fill="#fff" stroke="#e0401c" stroke-width="2.4"/><circle cx="1190.3" cy="620.2" r="4" fill="#fff" stroke="#e0401c" stroke-width="3"/><circle cx="1205.3" cy="620.2" r="7.7" fill="#fff" stroke="#a08018" stroke-width="2.4"/><circle cx="1205.3" cy="620.2" r="4" fill="#fff" stroke="#a08018" stroke-width="3"/><circle cx="1220.3" cy="620.2" r="7.7" fill="#fff" stroke="#209020" stroke-width="2.4"/><circle cx="1220.3" cy="620.2" r="4" fill="#fff" stroke="#209020" stroke-width="3"/><circle cx="1235.3" cy="620.2" r="7.7" fill="#fff" stroke="#1212c0" stroke-width="2.4"/><circle cx="1235.3" cy="620.2" r="4" fill="#fff" stroke="#1212c0" stroke-width="3"/><circle cx="1250.5" cy="620.2" r="7.7" fill="#fff" stroke="#302080" stroke-width="2.4"/><circle cx="1250.5" cy="620.2" r="4" fill="#fff" stroke="#302080" stroke-width="3"/>
</g>
<text class="sm" x="1159.6" y="642.6" font-size="11.2" fill="#000" textLength="43.5" lengthAdjust="spacing">shallow</text>
<text class="sm" x="1229.5" y="640.3" font-size="11.5" fill="#000" textLength="24.6" lengthAdjust="spacingAndGlyphs">deep</text>
</svg>
</body></html>
